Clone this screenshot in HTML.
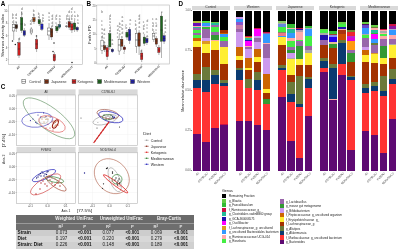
<!DOCTYPE html>
<html><head><meta charset="utf-8"><style>
html,body{margin:0;padding:0;background:#fff;}
#r{position:relative;will-change:transform;width:400px;height:250px;overflow:hidden;background:#fff;font-family:"Liberation Sans",sans-serif;}
#r div,#r span,#r svg{position:absolute;}
#r span{white-space:nowrap;line-height:1;}
</style></head><body><div id="r">
<svg width="400" height="250" viewBox="0 0 400 250" style="left:0;top:0" font-family="Liberation Sans, sans-serif"><rect x="8.4" y="5.0" width="74.0" height="59.599999999999994" fill="#fff"/><line x1="19.0" y1="5.0" x2="19.0" y2="64.6" stroke="#f7f7f7" stroke-width="0.4"/><line x1="36.6" y1="5.0" x2="36.6" y2="64.6" stroke="#f7f7f7" stroke-width="0.4"/><line x1="54.3" y1="5.0" x2="54.3" y2="64.6" stroke="#f7f7f7" stroke-width="0.4"/><line x1="71.9" y1="5.0" x2="71.9" y2="64.6" stroke="#f7f7f7" stroke-width="0.4"/><line x1="8.4" y1="11.3" x2="82.4" y2="11.3" stroke="#f7f7f7" stroke-width="0.4"/><line x1="8.4" y1="23.4" x2="82.4" y2="23.4" stroke="#f7f7f7" stroke-width="0.4"/><line x1="8.4" y1="35.5" x2="82.4" y2="35.5" stroke="#f7f7f7" stroke-width="0.4"/><line x1="8.4" y1="47.5" x2="82.4" y2="47.5" stroke="#f7f7f7" stroke-width="0.4"/><line x1="8.4" y1="59.6" x2="82.4" y2="59.6" stroke="#f7f7f7" stroke-width="0.4"/><rect x="8.4" y="5.0" width="74.0" height="59.599999999999994" fill="none" stroke="#b5b5b5" stroke-width="0.6"/><text x="7.30" y="12.30" font-size="2.8" fill="#555" text-anchor="end" font-weight="normal">10</text><line x1="7.6" y1="11.3" x2="8.4" y2="11.3" stroke="#666" stroke-width="0.4"/><text x="7.30" y="24.40" font-size="2.8" fill="#555" text-anchor="end" font-weight="normal">8</text><line x1="7.6" y1="23.4" x2="8.4" y2="23.4" stroke="#666" stroke-width="0.4"/><text x="7.30" y="36.50" font-size="2.8" fill="#555" text-anchor="end" font-weight="normal">6</text><line x1="7.6" y1="35.5" x2="8.4" y2="35.5" stroke="#666" stroke-width="0.4"/><text x="7.30" y="48.50" font-size="2.8" fill="#555" text-anchor="end" font-weight="normal">4</text><line x1="7.6" y1="47.5" x2="8.4" y2="47.5" stroke="#666" stroke-width="0.4"/><text x="7.30" y="60.60" font-size="2.8" fill="#555" text-anchor="end" font-weight="normal">2</text><line x1="7.6" y1="59.6" x2="8.4" y2="59.6" stroke="#666" stroke-width="0.4"/><text x="3.60" y="35.50" font-size="4.0" fill="#222" text-anchor="middle" font-weight="normal" transform="rotate(-90 3.60 35.50)">Shannon diversity index</text><line x1="13.70" y1="20.00" x2="13.70" y2="24.50" stroke="#222" stroke-width="0.35"/><line x1="13.70" y1="31.00" x2="13.70" y2="40.00" stroke="#222" stroke-width="0.35"/><rect x="12.53" y="24.50" width="2.35" height="6.50" fill="#ffffff" stroke="#222" stroke-width="0.35"/><line x1="12.53" y1="27.50" x2="14.87" y2="27.50" stroke="#222" stroke-width="0.5"/><line x1="16.35" y1="22.00" x2="16.35" y2="24.80" stroke="#222" stroke-width="0.35"/><line x1="16.35" y1="28.50" x2="16.35" y2="32.00" stroke="#222" stroke-width="0.35"/><rect x="15.18" y="24.80" width="2.35" height="3.70" fill="#3a1a0c" stroke="#222" stroke-width="0.35"/><line x1="15.18" y1="26.50" x2="17.53" y2="26.50" stroke="#222" stroke-width="0.5"/><line x1="19.00" y1="38.00" x2="19.00" y2="42.60" stroke="#222" stroke-width="0.35"/><line x1="19.00" y1="55.20" x2="19.00" y2="58.00" stroke="#222" stroke-width="0.35"/><rect x="17.82" y="42.60" width="2.35" height="12.60" fill="#cc1f1f" stroke="#222" stroke-width="0.35"/><line x1="17.82" y1="49.00" x2="20.18" y2="49.00" stroke="#222" stroke-width="0.5"/><line x1="21.65" y1="12.00" x2="21.65" y2="17.50" stroke="#222" stroke-width="0.35"/><line x1="21.65" y1="30.50" x2="21.65" y2="33.00" stroke="#222" stroke-width="0.35"/><rect x="20.47" y="17.50" width="2.35" height="13.00" fill="#1e661e" stroke="#222" stroke-width="0.35"/><line x1="20.47" y1="24.00" x2="22.82" y2="24.00" stroke="#222" stroke-width="0.5"/><line x1="24.30" y1="28.00" x2="24.30" y2="30.80" stroke="#222" stroke-width="0.35"/><line x1="24.30" y1="35.20" x2="24.30" y2="37.00" stroke="#222" stroke-width="0.35"/><rect x="23.12" y="30.80" width="2.35" height="4.40" fill="#1f1fa8" stroke="#222" stroke-width="0.35"/><line x1="23.12" y1="33.00" x2="25.48" y2="33.00" stroke="#222" stroke-width="0.5"/><line x1="31.30" y1="27.00" x2="31.30" y2="29.00" stroke="#222" stroke-width="0.35"/><line x1="31.30" y1="33.00" x2="31.30" y2="35.00" stroke="#222" stroke-width="0.35"/><rect x="30.12" y="29.00" width="2.35" height="4.00" fill="#ffffff" stroke="#222" stroke-width="0.35"/><line x1="30.12" y1="31.00" x2="32.48" y2="31.00" stroke="#222" stroke-width="0.5"/><line x1="33.95" y1="14.00" x2="33.95" y2="17.50" stroke="#222" stroke-width="0.35"/><line x1="33.95" y1="21.70" x2="33.95" y2="24.00" stroke="#222" stroke-width="0.35"/><rect x="32.77" y="17.50" width="2.35" height="4.20" fill="#9a4a1c" stroke="#222" stroke-width="0.35"/><line x1="32.77" y1="19.50" x2="35.13" y2="19.50" stroke="#222" stroke-width="0.5"/><line x1="36.60" y1="37.00" x2="36.60" y2="39.50" stroke="#222" stroke-width="0.35"/><line x1="36.60" y1="48.90" x2="36.60" y2="52.00" stroke="#222" stroke-width="0.35"/><rect x="35.42" y="39.50" width="2.35" height="9.40" fill="#cc1f1f" stroke="#222" stroke-width="0.35"/><line x1="35.42" y1="44.00" x2="37.78" y2="44.00" stroke="#222" stroke-width="0.5"/><line x1="39.25" y1="17.00" x2="39.25" y2="19.60" stroke="#222" stroke-width="0.35"/><line x1="39.25" y1="23.80" x2="39.25" y2="26.00" stroke="#222" stroke-width="0.35"/><rect x="38.07" y="19.60" width="2.35" height="4.20" fill="#1e661e" stroke="#222" stroke-width="0.35"/><line x1="38.07" y1="21.50" x2="40.43" y2="21.50" stroke="#222" stroke-width="0.5"/><line x1="41.90" y1="22.00" x2="41.90" y2="24.00" stroke="#222" stroke-width="0.35"/><line x1="41.90" y1="29.40" x2="41.90" y2="31.00" stroke="#222" stroke-width="0.35"/><rect x="40.72" y="24.00" width="2.35" height="5.40" fill="#2424c8" stroke="#222" stroke-width="0.35"/><line x1="40.72" y1="27.00" x2="43.08" y2="27.00" stroke="#222" stroke-width="0.5"/><line x1="49.00" y1="25.00" x2="49.00" y2="28.00" stroke="#222" stroke-width="0.35"/><line x1="49.00" y1="35.00" x2="49.00" y2="40.00" stroke="#222" stroke-width="0.35"/><rect x="47.82" y="28.00" width="2.35" height="7.00" fill="#ffffff" stroke="#222" stroke-width="0.35"/><line x1="47.82" y1="31.00" x2="50.18" y2="31.00" stroke="#222" stroke-width="0.5"/><line x1="51.65" y1="26.00" x2="51.65" y2="28.70" stroke="#222" stroke-width="0.35"/><line x1="51.65" y1="37.00" x2="51.65" y2="40.00" stroke="#222" stroke-width="0.35"/><rect x="50.47" y="28.70" width="2.35" height="8.30" fill="#6a2a10" stroke="#222" stroke-width="0.35"/><line x1="50.47" y1="32.00" x2="52.83" y2="32.00" stroke="#222" stroke-width="0.5"/><line x1="54.30" y1="52.00" x2="54.30" y2="54.50" stroke="#222" stroke-width="0.35"/><line x1="54.30" y1="60.80" x2="54.30" y2="62.00" stroke="#222" stroke-width="0.35"/><rect x="53.12" y="54.50" width="2.35" height="6.30" fill="#cc1f1f" stroke="#222" stroke-width="0.35"/><line x1="53.12" y1="57.00" x2="55.48" y2="57.00" stroke="#222" stroke-width="0.5"/><line x1="56.95" y1="24.00" x2="56.95" y2="26.60" stroke="#222" stroke-width="0.35"/><line x1="56.95" y1="30.80" x2="56.95" y2="33.00" stroke="#222" stroke-width="0.35"/><rect x="55.77" y="26.60" width="2.35" height="4.20" fill="#1e661e" stroke="#222" stroke-width="0.35"/><line x1="55.77" y1="28.50" x2="58.12" y2="28.50" stroke="#222" stroke-width="0.5"/><line x1="59.60" y1="23.00" x2="59.60" y2="24.50" stroke="#222" stroke-width="0.35"/><line x1="59.60" y1="27.30" x2="59.60" y2="29.00" stroke="#222" stroke-width="0.35"/><rect x="58.42" y="24.50" width="2.35" height="2.80" fill="#1a6a80" stroke="#222" stroke-width="0.35"/><line x1="58.42" y1="26.00" x2="60.77" y2="26.00" stroke="#222" stroke-width="0.5"/><line x1="66.60" y1="25.00" x2="66.60" y2="26.00" stroke="#222" stroke-width="0.35"/><line x1="66.60" y1="26.80" x2="66.60" y2="28.00" stroke="#222" stroke-width="0.35"/><rect x="65.43" y="26.00" width="2.35" height="0.80" fill="#ffffff" stroke="#222" stroke-width="0.35"/><line x1="65.43" y1="26.40" x2="67.78" y2="26.40" stroke="#222" stroke-width="0.5"/><line x1="69.25" y1="19.00" x2="69.25" y2="21.70" stroke="#222" stroke-width="0.35"/><line x1="69.25" y1="27.30" x2="69.25" y2="30.00" stroke="#222" stroke-width="0.35"/><rect x="68.08" y="21.70" width="2.35" height="5.60" fill="#8a1a10" stroke="#222" stroke-width="0.35"/><line x1="68.08" y1="24.00" x2="70.42" y2="24.00" stroke="#222" stroke-width="0.5"/><line x1="71.90" y1="21.00" x2="71.90" y2="23.80" stroke="#222" stroke-width="0.35"/><line x1="71.90" y1="30.00" x2="71.90" y2="33.00" stroke="#222" stroke-width="0.35"/><rect x="70.73" y="23.80" width="2.35" height="6.20" fill="#cc1f1f" stroke="#222" stroke-width="0.35"/><line x1="70.73" y1="27.00" x2="73.08" y2="27.00" stroke="#222" stroke-width="0.5"/><line x1="74.55" y1="20.00" x2="74.55" y2="23.00" stroke="#222" stroke-width="0.35"/><line x1="74.55" y1="29.40" x2="74.55" y2="32.00" stroke="#222" stroke-width="0.35"/><rect x="73.38" y="23.00" width="2.35" height="6.40" fill="#1e661e" stroke="#222" stroke-width="0.35"/><line x1="73.38" y1="26.00" x2="75.73" y2="26.00" stroke="#222" stroke-width="0.5"/><line x1="77.20" y1="26.00" x2="77.20" y2="27.30" stroke="#222" stroke-width="0.35"/><line x1="77.20" y1="30.00" x2="77.20" y2="32.00" stroke="#222" stroke-width="0.35"/><rect x="76.03" y="27.30" width="2.35" height="2.70" fill="#1f1fa8" stroke="#222" stroke-width="0.35"/><line x1="76.03" y1="28.60" x2="78.38" y2="28.60" stroke="#222" stroke-width="0.5"/><circle cx="15.3" cy="44.5" r="0.75" fill="#222"/><circle cx="12.5" cy="41" r="0.75" fill="#222"/><circle cx="54" cy="43" r="0.75" fill="#222"/><circle cx="53" cy="51.5" r="0.75" fill="#222"/><circle cx="72" cy="62.4" r="0.75" fill="#222"/><circle cx="36.5" cy="36" r="0.75" fill="#222"/><text x="12.80" y="15.60" font-size="3.2" fill="#606060" text-anchor="middle" font-weight="normal">b</text><text x="12.80" y="19.10" font-size="3.2" fill="#606060" text-anchor="middle" font-weight="normal">b</text><text x="12.80" y="22.70" font-size="3.2" fill="#606060" text-anchor="middle" font-weight="normal">c</text><text x="16.20" y="15.60" font-size="3.2" fill="#606060" text-anchor="middle" font-weight="normal">d</text><text x="16.20" y="19.10" font-size="3.2" fill="#606060" text-anchor="middle" font-weight="normal">a</text><text x="16.20" y="22.70" font-size="3.2" fill="#606060" text-anchor="middle" font-weight="normal">a</text><text x="21.80" y="9.90" font-size="3.2" fill="#606060" text-anchor="middle" font-weight="normal">d</text><text x="21.80" y="12.60" font-size="3.2" fill="#606060" text-anchor="middle" font-weight="normal">c</text><text x="21.80" y="15.30" font-size="3.2" fill="#606060" text-anchor="middle" font-weight="normal">b</text><text x="25.00" y="26.40" font-size="3.2" fill="#606060" text-anchor="middle" font-weight="normal">b</text><text x="19.40" y="39.60" font-size="3.2" fill="#606060" text-anchor="middle" font-weight="normal">d</text><text x="30.60" y="21.60" font-size="3.2" fill="#606060" text-anchor="middle" font-weight="normal">d</text><text x="30.60" y="25.10" font-size="3.2" fill="#606060" text-anchor="middle" font-weight="normal">d</text><text x="33.60" y="12.10" font-size="3.2" fill="#606060" text-anchor="middle" font-weight="normal">b</text><text x="33.60" y="15.90" font-size="3.2" fill="#606060" text-anchor="middle" font-weight="normal">b</text><text x="38.60" y="15.10" font-size="3.2" fill="#606060" text-anchor="middle" font-weight="normal">b</text><text x="38.60" y="18.30" font-size="3.2" fill="#606060" text-anchor="middle" font-weight="normal">d</text><text x="43.00" y="15.60" font-size="3.2" fill="#606060" text-anchor="middle" font-weight="normal">a</text><text x="43.00" y="18.60" font-size="3.2" fill="#606060" text-anchor="middle" font-weight="normal">a</text><text x="43.00" y="21.70" font-size="3.2" fill="#606060" text-anchor="middle" font-weight="normal">b</text><text x="49.20" y="14.10" font-size="3.2" fill="#606060" text-anchor="middle" font-weight="normal">a</text><text x="49.20" y="17.60" font-size="3.2" fill="#606060" text-anchor="middle" font-weight="normal">c</text><text x="49.20" y="21.10" font-size="3.2" fill="#606060" text-anchor="middle" font-weight="normal">a</text><text x="49.20" y="24.60" font-size="3.2" fill="#606060" text-anchor="middle" font-weight="normal">c</text><text x="52.40" y="16.50" font-size="3.2" fill="#606060" text-anchor="middle" font-weight="normal">d</text><text x="52.40" y="20.10" font-size="3.2" fill="#606060" text-anchor="middle" font-weight="normal">d</text><text x="52.40" y="23.60" font-size="3.2" fill="#606060" text-anchor="middle" font-weight="normal">d</text><text x="52.40" y="27.10" font-size="3.2" fill="#606060" text-anchor="middle" font-weight="normal">d</text><text x="56.40" y="16.50" font-size="3.2" fill="#606060" text-anchor="middle" font-weight="normal">d</text><text x="56.40" y="20.10" font-size="3.2" fill="#606060" text-anchor="middle" font-weight="normal">b</text><text x="56.40" y="23.60" font-size="3.2" fill="#606060" text-anchor="middle" font-weight="normal">c</text><text x="59.60" y="16.50" font-size="3.2" fill="#606060" text-anchor="middle" font-weight="normal">a</text><text x="59.60" y="20.10" font-size="3.2" fill="#606060" text-anchor="middle" font-weight="normal">a</text><text x="59.60" y="23.10" font-size="3.2" fill="#606060" text-anchor="middle" font-weight="normal">b</text><text x="66.80" y="16.50" font-size="3.2" fill="#606060" text-anchor="middle" font-weight="normal">d</text><text x="66.80" y="20.10" font-size="3.2" fill="#606060" text-anchor="middle" font-weight="normal">b</text><text x="66.80" y="23.60" font-size="3.2" fill="#606060" text-anchor="middle" font-weight="normal">c</text><text x="69.20" y="13.30" font-size="3.2" fill="#606060" text-anchor="middle" font-weight="normal">d</text><text x="69.20" y="16.60" font-size="3.2" fill="#606060" text-anchor="middle" font-weight="normal">c</text><text x="69.20" y="20.10" font-size="3.2" fill="#606060" text-anchor="middle" font-weight="normal">d</text><text x="71.60" y="10.10" font-size="3.2" fill="#606060" text-anchor="middle" font-weight="normal">d</text><text x="71.60" y="13.10" font-size="3.2" fill="#606060" text-anchor="middle" font-weight="normal">c</text><text x="71.60" y="16.60" font-size="3.2" fill="#606060" text-anchor="middle" font-weight="normal">d</text><text x="71.60" y="20.10" font-size="3.2" fill="#606060" text-anchor="middle" font-weight="normal">b</text><text x="74.80" y="13.10" font-size="3.2" fill="#606060" text-anchor="middle" font-weight="normal">c</text><text x="74.80" y="16.60" font-size="3.2" fill="#606060" text-anchor="middle" font-weight="normal">a</text><text x="74.80" y="20.10" font-size="3.2" fill="#606060" text-anchor="middle" font-weight="normal">c</text><text x="78.00" y="17.30" font-size="3.2" fill="#606060" text-anchor="middle" font-weight="normal">b</text><text x="78.00" y="20.60" font-size="3.2" fill="#606060" text-anchor="middle" font-weight="normal">c</text><text x="78.00" y="24.10" font-size="3.2" fill="#606060" text-anchor="middle" font-weight="normal">a</text><text x="20.00" y="67.20" font-size="2.8" fill="#444" text-anchor="end" font-weight="bold" transform="rotate(-45 20.00 67.20)">All</text><line x1="19.0" y1="64.6" x2="19.0" y2="65.5" stroke="#666" stroke-width="0.4"/><text x="37.60" y="67.20" font-size="2.8" fill="#444" text-anchor="end" font-weight="bold" transform="rotate(-45 37.60 67.20)">C57BL/6J</text><line x1="36.6" y1="64.6" x2="36.6" y2="65.5" stroke="#666" stroke-width="0.4"/><text x="55.30" y="67.20" font-size="2.8" fill="#444" text-anchor="end" font-weight="bold" transform="rotate(-45 55.30 67.20)">FVB/NJ</text><line x1="54.3" y1="64.6" x2="54.3" y2="65.5" stroke="#666" stroke-width="0.4"/><text x="72.90" y="67.20" font-size="2.8" fill="#444" text-anchor="end" font-weight="bold" transform="rotate(-45 72.90 67.20)">NOD/ShiLtJ</text><line x1="71.9" y1="64.6" x2="71.9" y2="65.5" stroke="#666" stroke-width="0.4"/><rect x="96.8" y="5.0" width="72.50000000000001" height="59.0" fill="#fff"/><line x1="107.2" y1="5.0" x2="107.2" y2="64.0" stroke="#f7f7f7" stroke-width="0.4"/><line x1="124.4" y1="5.0" x2="124.4" y2="64.0" stroke="#f7f7f7" stroke-width="0.4"/><line x1="141.7" y1="5.0" x2="141.7" y2="64.0" stroke="#f7f7f7" stroke-width="0.4"/><line x1="158.9" y1="5.0" x2="158.9" y2="64.0" stroke="#f7f7f7" stroke-width="0.4"/><line x1="96.8" y1="5.7" x2="169.3" y2="5.7" stroke="#f7f7f7" stroke-width="0.4"/><line x1="96.8" y1="20.0" x2="169.3" y2="20.0" stroke="#f7f7f7" stroke-width="0.4"/><line x1="96.8" y1="34.4" x2="169.3" y2="34.4" stroke="#f7f7f7" stroke-width="0.4"/><line x1="96.8" y1="48.75" x2="169.3" y2="48.75" stroke="#f7f7f7" stroke-width="0.4"/><line x1="96.8" y1="63.1" x2="169.3" y2="63.1" stroke="#f7f7f7" stroke-width="0.4"/><rect x="96.8" y="5.0" width="72.50000000000001" height="59.0" fill="none" stroke="#b5b5b5" stroke-width="0.6"/><text x="95.70" y="6.70" font-size="2.8" fill="#555" text-anchor="end" font-weight="normal">20</text><line x1="96.0" y1="5.7" x2="96.8" y2="5.7" stroke="#666" stroke-width="0.4"/><text x="95.70" y="21.00" font-size="2.8" fill="#555" text-anchor="end" font-weight="normal">15</text><line x1="96.0" y1="20.0" x2="96.8" y2="20.0" stroke="#666" stroke-width="0.4"/><text x="95.70" y="35.40" font-size="2.8" fill="#555" text-anchor="end" font-weight="normal">10</text><line x1="96.0" y1="34.4" x2="96.8" y2="34.4" stroke="#666" stroke-width="0.4"/><text x="95.70" y="49.75" font-size="2.8" fill="#555" text-anchor="end" font-weight="normal">5</text><line x1="96.0" y1="48.75" x2="96.8" y2="48.75" stroke="#666" stroke-width="0.4"/><text x="95.70" y="64.10" font-size="2.8" fill="#555" text-anchor="end" font-weight="normal">0</text><line x1="96.0" y1="63.1" x2="96.8" y2="63.1" stroke="#666" stroke-width="0.4"/><text x="90.80" y="34.50" font-size="4.0" fill="#222" text-anchor="middle" font-weight="normal" transform="rotate(-90 90.80 34.50)">Faith's PD</text><line x1="102.02" y1="36.00" x2="102.02" y2="40.60" stroke="#222" stroke-width="0.35"/><line x1="102.02" y1="50.40" x2="102.02" y2="54.00" stroke="#222" stroke-width="0.35"/><rect x="100.88" y="40.60" width="2.29" height="9.80" fill="#ffffff" stroke="#222" stroke-width="0.35"/><line x1="100.88" y1="46.00" x2="103.17" y2="46.00" stroke="#222" stroke-width="0.5"/><line x1="104.61" y1="42.00" x2="104.61" y2="45.50" stroke="#222" stroke-width="0.35"/><line x1="104.61" y1="49.70" x2="104.61" y2="52.00" stroke="#222" stroke-width="0.35"/><rect x="103.47" y="45.50" width="2.29" height="4.20" fill="#7a2e12" stroke="#222" stroke-width="0.35"/><line x1="103.47" y1="47.50" x2="105.75" y2="47.50" stroke="#222" stroke-width="0.5"/><line x1="107.20" y1="45.00" x2="107.20" y2="47.60" stroke="#222" stroke-width="0.35"/><line x1="107.20" y1="56.70" x2="107.20" y2="60.00" stroke="#222" stroke-width="0.35"/><rect x="106.06" y="47.60" width="2.29" height="9.10" fill="#cc1f1f" stroke="#222" stroke-width="0.35"/><line x1="106.06" y1="51.00" x2="108.34" y2="51.00" stroke="#222" stroke-width="0.5"/><line x1="109.79" y1="30.00" x2="109.79" y2="33.60" stroke="#222" stroke-width="0.35"/><line x1="109.79" y1="46.90" x2="109.79" y2="50.00" stroke="#222" stroke-width="0.35"/><rect x="108.65" y="33.60" width="2.29" height="13.30" fill="#1e661e" stroke="#222" stroke-width="0.35"/><line x1="108.65" y1="40.00" x2="110.94" y2="40.00" stroke="#222" stroke-width="0.5"/><line x1="112.38" y1="48.00" x2="112.38" y2="49.20" stroke="#222" stroke-width="0.35"/><line x1="112.38" y1="51.80" x2="112.38" y2="53.00" stroke="#222" stroke-width="0.35"/><rect x="111.23" y="49.20" width="2.29" height="2.60" fill="#1f1fa8" stroke="#222" stroke-width="0.35"/><line x1="111.23" y1="50.50" x2="113.52" y2="50.50" stroke="#222" stroke-width="0.5"/><line x1="119.22" y1="35.00" x2="119.22" y2="39.20" stroke="#222" stroke-width="0.35"/><line x1="119.22" y1="51.00" x2="119.22" y2="55.00" stroke="#222" stroke-width="0.35"/><rect x="118.08" y="39.20" width="2.29" height="11.80" fill="#ffffff" stroke="#222" stroke-width="0.35"/><line x1="118.08" y1="45.00" x2="120.36" y2="45.00" stroke="#222" stroke-width="0.5"/><line x1="121.81" y1="36.00" x2="121.81" y2="39.20" stroke="#222" stroke-width="0.35"/><line x1="121.81" y1="46.20" x2="121.81" y2="50.00" stroke="#222" stroke-width="0.35"/><rect x="120.67" y="39.20" width="2.29" height="7.00" fill="#7a2e12" stroke="#222" stroke-width="0.35"/><line x1="120.67" y1="43.00" x2="122.95" y2="43.00" stroke="#222" stroke-width="0.5"/><line x1="124.40" y1="45.00" x2="124.40" y2="47.00" stroke="#222" stroke-width="0.35"/><line x1="124.40" y1="49.70" x2="124.40" y2="52.00" stroke="#222" stroke-width="0.35"/><rect x="123.26" y="47.00" width="2.29" height="2.70" fill="#8a1a10" stroke="#222" stroke-width="0.35"/><line x1="123.26" y1="48.50" x2="125.55" y2="48.50" stroke="#222" stroke-width="0.5"/><line x1="126.99" y1="30.00" x2="126.99" y2="32.20" stroke="#222" stroke-width="0.35"/><line x1="126.99" y1="37.10" x2="126.99" y2="40.00" stroke="#222" stroke-width="0.35"/><rect x="125.85" y="32.20" width="2.29" height="4.90" fill="#1e661e" stroke="#222" stroke-width="0.35"/><line x1="125.85" y1="35.00" x2="128.13" y2="35.00" stroke="#222" stroke-width="0.5"/><line x1="129.58" y1="27.00" x2="129.58" y2="29.40" stroke="#222" stroke-width="0.35"/><line x1="129.58" y1="40.60" x2="129.58" y2="44.00" stroke="#222" stroke-width="0.35"/><rect x="128.44" y="29.40" width="2.29" height="11.20" fill="#1f1fa8" stroke="#222" stroke-width="0.35"/><line x1="128.44" y1="35.00" x2="130.72" y2="35.00" stroke="#222" stroke-width="0.5"/><line x1="136.52" y1="30.00" x2="136.52" y2="33.60" stroke="#222" stroke-width="0.35"/><line x1="136.52" y1="46.20" x2="136.52" y2="53.00" stroke="#222" stroke-width="0.35"/><rect x="135.38" y="33.60" width="2.29" height="12.60" fill="#ffffff" stroke="#222" stroke-width="0.35"/><line x1="135.38" y1="40.00" x2="137.66" y2="40.00" stroke="#222" stroke-width="0.5"/><line x1="139.11" y1="30.00" x2="139.11" y2="32.90" stroke="#222" stroke-width="0.35"/><line x1="139.11" y1="46.20" x2="139.11" y2="55.00" stroke="#222" stroke-width="0.35"/><rect x="137.97" y="32.90" width="2.29" height="13.30" fill="#7a2e12" stroke="#222" stroke-width="0.35"/><line x1="137.97" y1="40.00" x2="140.25" y2="40.00" stroke="#222" stroke-width="0.5"/><line x1="141.70" y1="50.00" x2="141.70" y2="53.00" stroke="#222" stroke-width="0.35"/><line x1="141.70" y1="59.60" x2="141.70" y2="62.00" stroke="#222" stroke-width="0.35"/><rect x="140.56" y="53.00" width="2.29" height="6.60" fill="#cc1f1f" stroke="#222" stroke-width="0.35"/><line x1="140.56" y1="56.00" x2="142.84" y2="56.00" stroke="#222" stroke-width="0.5"/><line x1="144.29" y1="34.00" x2="144.29" y2="37.10" stroke="#222" stroke-width="0.35"/><line x1="144.29" y1="43.40" x2="144.29" y2="46.00" stroke="#222" stroke-width="0.35"/><rect x="143.15" y="37.10" width="2.29" height="6.30" fill="#1e661e" stroke="#222" stroke-width="0.35"/><line x1="143.15" y1="40.00" x2="145.43" y2="40.00" stroke="#222" stroke-width="0.5"/><line x1="146.88" y1="36.00" x2="146.88" y2="38.50" stroke="#222" stroke-width="0.35"/><line x1="146.88" y1="42.70" x2="146.88" y2="45.00" stroke="#222" stroke-width="0.35"/><rect x="145.74" y="38.50" width="2.29" height="4.20" fill="#1f1fa8" stroke="#222" stroke-width="0.35"/><line x1="145.74" y1="40.50" x2="148.02" y2="40.50" stroke="#222" stroke-width="0.5"/><line x1="153.72" y1="31.00" x2="153.72" y2="33.60" stroke="#222" stroke-width="0.35"/><line x1="153.72" y1="39.20" x2="153.72" y2="42.00" stroke="#222" stroke-width="0.35"/><rect x="152.58" y="33.60" width="2.29" height="5.60" fill="#ffffff" stroke="#222" stroke-width="0.35"/><line x1="152.58" y1="36.00" x2="154.86" y2="36.00" stroke="#222" stroke-width="0.5"/><line x1="156.31" y1="36.00" x2="156.31" y2="38.50" stroke="#222" stroke-width="0.35"/><line x1="156.31" y1="44.10" x2="156.31" y2="47.00" stroke="#222" stroke-width="0.35"/><rect x="155.17" y="38.50" width="2.29" height="5.60" fill="#7a2e12" stroke="#222" stroke-width="0.35"/><line x1="155.17" y1="41.00" x2="157.45" y2="41.00" stroke="#222" stroke-width="0.5"/><line x1="158.90" y1="45.00" x2="158.90" y2="47.60" stroke="#222" stroke-width="0.35"/><line x1="158.90" y1="52.50" x2="158.90" y2="55.00" stroke="#222" stroke-width="0.35"/><rect x="157.76" y="47.60" width="2.29" height="4.90" fill="#cc1f1f" stroke="#222" stroke-width="0.35"/><line x1="157.76" y1="50.00" x2="160.04" y2="50.00" stroke="#222" stroke-width="0.5"/><line x1="161.49" y1="12.00" x2="161.49" y2="16.10" stroke="#222" stroke-width="0.35"/><line x1="161.49" y1="41.30" x2="161.49" y2="58.00" stroke="#222" stroke-width="0.35"/><rect x="160.35" y="16.10" width="2.29" height="25.20" fill="#1e661e" stroke="#222" stroke-width="0.35"/><line x1="160.35" y1="30.00" x2="162.63" y2="30.00" stroke="#222" stroke-width="0.5"/><line x1="164.08" y1="33.00" x2="164.08" y2="35.70" stroke="#222" stroke-width="0.35"/><line x1="164.08" y1="41.30" x2="164.08" y2="44.00" stroke="#222" stroke-width="0.35"/><rect x="162.94" y="35.70" width="2.29" height="5.60" fill="#1f1fa8" stroke="#222" stroke-width="0.35"/><line x1="162.94" y1="38.50" x2="165.22" y2="38.50" stroke="#222" stroke-width="0.5"/><text x="102.10" y="13.30" font-size="3.2" fill="#606060" text-anchor="middle" font-weight="normal">b</text><text x="102.10" y="22.10" font-size="3.2" fill="#606060" text-anchor="middle" font-weight="normal">c</text><text x="102.10" y="26.10" font-size="3.2" fill="#606060" text-anchor="middle" font-weight="normal">c</text><text x="102.10" y="30.10" font-size="3.2" fill="#606060" text-anchor="middle" font-weight="normal">a</text><text x="102.10" y="34.10" font-size="3.2" fill="#606060" text-anchor="middle" font-weight="normal">a</text><text x="102.10" y="38.10" font-size="3.2" fill="#606060" text-anchor="middle" font-weight="normal">d</text><text x="104.30" y="30.90" font-size="3.2" fill="#606060" text-anchor="middle" font-weight="normal">d</text><text x="104.30" y="34.60" font-size="3.2" fill="#606060" text-anchor="middle" font-weight="normal">a</text><text x="104.30" y="38.60" font-size="3.2" fill="#606060" text-anchor="middle" font-weight="normal">c</text><text x="104.30" y="42.60" font-size="3.2" fill="#606060" text-anchor="middle" font-weight="normal">a</text><text x="110.10" y="17.00" font-size="3.2" fill="#606060" text-anchor="middle" font-weight="normal">d</text><text x="110.10" y="19.90" font-size="3.2" fill="#606060" text-anchor="middle" font-weight="normal">b</text><text x="110.10" y="22.80" font-size="3.2" fill="#606060" text-anchor="middle" font-weight="normal">a</text><text x="110.10" y="25.70" font-size="3.2" fill="#606060" text-anchor="middle" font-weight="normal">c</text><text x="110.10" y="28.60" font-size="3.2" fill="#606060" text-anchor="middle" font-weight="normal">d</text><text x="110.10" y="31.60" font-size="3.2" fill="#606060" text-anchor="middle" font-weight="normal">d</text><text x="112.30" y="41.10" font-size="3.2" fill="#606060" text-anchor="middle" font-weight="normal">a</text><text x="112.30" y="45.10" font-size="3.2" fill="#606060" text-anchor="middle" font-weight="normal">a</text><text x="117.60" y="27.10" font-size="3.2" fill="#606060" text-anchor="middle" font-weight="normal">a</text><text x="117.60" y="30.60" font-size="3.2" fill="#606060" text-anchor="middle" font-weight="normal">d</text><text x="117.60" y="34.10" font-size="3.2" fill="#606060" text-anchor="middle" font-weight="normal">c</text><text x="117.60" y="37.60" font-size="3.2" fill="#606060" text-anchor="middle" font-weight="normal">c</text><text x="119.70" y="24.60" font-size="3.2" fill="#606060" text-anchor="middle" font-weight="normal">b</text><text x="119.70" y="28.10" font-size="3.2" fill="#606060" text-anchor="middle" font-weight="normal">a</text><text x="119.70" y="31.60" font-size="3.2" fill="#606060" text-anchor="middle" font-weight="normal">c</text><text x="119.70" y="35.10" font-size="3.2" fill="#606060" text-anchor="middle" font-weight="normal">a</text><text x="122.40" y="18.10" font-size="3.2" fill="#606060" text-anchor="middle" font-weight="normal">a</text><text x="122.40" y="22.10" font-size="3.2" fill="#606060" text-anchor="middle" font-weight="normal">a</text><text x="122.40" y="26.10" font-size="3.2" fill="#606060" text-anchor="middle" font-weight="normal">a</text><text x="122.40" y="30.10" font-size="3.2" fill="#606060" text-anchor="middle" font-weight="normal">b</text><text x="122.40" y="34.10" font-size="3.2" fill="#606060" text-anchor="middle" font-weight="normal">d</text><text x="122.40" y="38.10" font-size="3.2" fill="#606060" text-anchor="middle" font-weight="normal">c</text><text x="126.40" y="25.60" font-size="3.2" fill="#606060" text-anchor="middle" font-weight="normal">c</text><text x="126.40" y="29.10" font-size="3.2" fill="#606060" text-anchor="middle" font-weight="normal">b</text><text x="130.40" y="21.10" font-size="3.2" fill="#606060" text-anchor="middle" font-weight="normal">a</text><text x="130.40" y="25.10" font-size="3.2" fill="#606060" text-anchor="middle" font-weight="normal">c</text><text x="124.20" y="53.60" font-size="3.2" fill="#606060" text-anchor="middle" font-weight="normal">c</text><text x="135.60" y="22.10" font-size="3.2" fill="#606060" text-anchor="middle" font-weight="normal">c</text><text x="135.60" y="26.10" font-size="3.2" fill="#606060" text-anchor="middle" font-weight="normal">b</text><text x="135.60" y="30.10" font-size="3.2" fill="#606060" text-anchor="middle" font-weight="normal">d</text><text x="139.30" y="16.50" font-size="3.2" fill="#606060" text-anchor="middle" font-weight="normal">d</text><text x="139.30" y="20.10" font-size="3.2" fill="#606060" text-anchor="middle" font-weight="normal">d</text><text x="139.30" y="24.10" font-size="3.2" fill="#606060" text-anchor="middle" font-weight="normal">d</text><text x="139.30" y="28.10" font-size="3.2" fill="#606060" text-anchor="middle" font-weight="normal">a</text><text x="143.60" y="22.90" font-size="3.2" fill="#606060" text-anchor="middle" font-weight="normal">c</text><text x="143.60" y="26.60" font-size="3.2" fill="#606060" text-anchor="middle" font-weight="normal">d</text><text x="143.60" y="30.10" font-size="3.2" fill="#606060" text-anchor="middle" font-weight="normal">b</text><text x="143.60" y="34.10" font-size="3.2" fill="#606060" text-anchor="middle" font-weight="normal">c</text><text x="147.30" y="22.10" font-size="3.2" fill="#606060" text-anchor="middle" font-weight="normal">d</text><text x="147.30" y="25.60" font-size="3.2" fill="#606060" text-anchor="middle" font-weight="normal">c</text><text x="147.30" y="29.10" font-size="3.2" fill="#606060" text-anchor="middle" font-weight="normal">c</text><text x="147.30" y="33.10" font-size="3.2" fill="#606060" text-anchor="middle" font-weight="normal">c</text><text x="147.30" y="36.60" font-size="3.2" fill="#606060" text-anchor="middle" font-weight="normal">a</text><text x="141.40" y="52.10" font-size="3.2" fill="#606060" text-anchor="middle" font-weight="normal">d</text><text x="152.90" y="19.70" font-size="3.2" fill="#606060" text-anchor="middle" font-weight="normal">c</text><text x="152.90" y="23.60" font-size="3.2" fill="#606060" text-anchor="middle" font-weight="normal">a</text><text x="152.90" y="27.10" font-size="3.2" fill="#606060" text-anchor="middle" font-weight="normal">d</text><text x="152.90" y="30.60" font-size="3.2" fill="#606060" text-anchor="middle" font-weight="normal">b</text><text x="156.40" y="19.70" font-size="3.2" fill="#606060" text-anchor="middle" font-weight="normal">a</text><text x="156.40" y="23.60" font-size="3.2" fill="#606060" text-anchor="middle" font-weight="normal">c</text><text x="156.40" y="27.10" font-size="3.2" fill="#606060" text-anchor="middle" font-weight="normal">d</text><text x="156.40" y="30.60" font-size="3.2" fill="#606060" text-anchor="middle" font-weight="normal">c</text><text x="156.40" y="34.10" font-size="3.2" fill="#606060" text-anchor="middle" font-weight="normal">c</text><text x="162.00" y="12.50" font-size="3.2" fill="#606060" text-anchor="middle" font-weight="normal">c</text><text x="165.50" y="22.10" font-size="3.2" fill="#606060" text-anchor="middle" font-weight="normal">d</text><text x="165.50" y="25.60" font-size="3.2" fill="#606060" text-anchor="middle" font-weight="normal">a</text><text x="165.50" y="29.10" font-size="3.2" fill="#606060" text-anchor="middle" font-weight="normal">a</text><text x="165.50" y="32.60" font-size="3.2" fill="#606060" text-anchor="middle" font-weight="normal">a</text><text x="108.20" y="66.60" font-size="2.8" fill="#444" text-anchor="end" font-weight="bold" transform="rotate(-45 108.20 66.60)">All</text><line x1="107.2" y1="64.0" x2="107.2" y2="64.9" stroke="#666" stroke-width="0.4"/><text x="125.40" y="66.60" font-size="2.8" fill="#444" text-anchor="end" font-weight="bold" transform="rotate(-45 125.40 66.60)">C57BL/6J</text><line x1="124.4" y1="64.0" x2="124.4" y2="64.9" stroke="#666" stroke-width="0.4"/><text x="142.70" y="66.60" font-size="2.8" fill="#444" text-anchor="end" font-weight="bold" transform="rotate(-45 142.70 66.60)">FVB/NJ</text><line x1="141.7" y1="64.0" x2="141.7" y2="64.9" stroke="#666" stroke-width="0.4"/><text x="159.90" y="66.60" font-size="2.8" fill="#444" text-anchor="end" font-weight="bold" transform="rotate(-45 159.90 66.60)">NOD/ShiLtJ</text><line x1="158.9" y1="64.0" x2="158.9" y2="64.9" stroke="#666" stroke-width="0.4"/><text x="0.80" y="5.60" font-size="6.3" fill="#000" text-anchor="start" font-weight="bold">A</text><text x="86.40" y="5.60" font-size="6.3" fill="#000" text-anchor="start" font-weight="bold">B</text><text x="0.80" y="89.30" font-size="6.3" fill="#000" text-anchor="start" font-weight="bold">C</text><text x="178.60" y="5.80" font-size="6.3" fill="#000" text-anchor="start" font-weight="bold">D</text><rect x="21.9" y="79.69999999999999" width="3.8" height="3.8" fill="#ffffff" stroke="#333" stroke-width="0.45"/><line x1="21.9" y1="81.6" x2="25.7" y2="81.6" stroke="#333" stroke-width="0.45"/><text x="29.00" y="82.90" font-size="3.6" fill="#333" text-anchor="start" font-weight="normal">Control</text><rect x="44.7" y="79.69999999999999" width="3.8" height="3.8" fill="#7a2e12" stroke="#333" stroke-width="0.45"/><line x1="44.7" y1="81.6" x2="48.5" y2="81.6" stroke="#333" stroke-width="0.45"/><text x="51.00" y="82.90" font-size="3.6" fill="#333" text-anchor="start" font-weight="normal">Japanese</text><rect x="72.10000000000001" y="79.69999999999999" width="3.8" height="3.8" fill="#cc1f1f" stroke="#333" stroke-width="0.45"/><line x1="72.10000000000001" y1="81.6" x2="75.9" y2="81.6" stroke="#333" stroke-width="0.45"/><text x="77.60" y="82.90" font-size="3.6" fill="#333" text-anchor="start" font-weight="normal">Ketogenic</text><rect x="97.7" y="79.69999999999999" width="3.8" height="3.8" fill="#1e661e" stroke="#333" stroke-width="0.45"/><line x1="97.7" y1="81.6" x2="101.5" y2="81.6" stroke="#333" stroke-width="0.45"/><text x="104.00" y="82.90" font-size="3.6" fill="#333" text-anchor="start" font-weight="normal">Mediterranean</text><rect x="130.7" y="79.69999999999999" width="3.8" height="3.8" fill="#1f1fa8" stroke="#333" stroke-width="0.45"/><line x1="130.7" y1="81.6" x2="134.5" y2="81.6" stroke="#333" stroke-width="0.45"/><text x="137.00" y="82.90" font-size="3.6" fill="#333" text-anchor="start" font-weight="normal">Western</text><rect x="16.5" y="89.4" width="59.099999999999994" height="5.599999999999994" fill="#d9d9d9"/><text x="46.05" y="93.30" font-size="3.0" fill="#333" text-anchor="middle" font-weight="normal">All</text><rect x="16.5" y="95.0" width="59.099999999999994" height="50.400000000000006" fill="#fff"/><line x1="30.4" y1="95.0" x2="30.4" y2="145.4" stroke="#f0f0f0" stroke-width="0.4"/><line x1="47.5" y1="95.0" x2="47.5" y2="145.4" stroke="#f0f0f0" stroke-width="0.4"/><line x1="65.7" y1="95.0" x2="65.7" y2="145.4" stroke="#f0f0f0" stroke-width="0.4"/><line x1="16.5" y1="96.0" x2="75.6" y2="96.0" stroke="#f0f0f0" stroke-width="0.4"/><line x1="16.5" y1="108.5" x2="75.6" y2="108.5" stroke="#f0f0f0" stroke-width="0.4"/><line x1="16.5" y1="121.5" x2="75.6" y2="121.5" stroke="#f0f0f0" stroke-width="0.4"/><line x1="16.5" y1="134.5" x2="75.6" y2="134.5" stroke="#f0f0f0" stroke-width="0.4"/><rect x="16.5" y="95.0" width="59.099999999999994" height="50.400000000000006" fill="none" stroke="#b5b5b5" stroke-width="0.6"/><text x="15.00" y="97.05" font-size="2.9" fill="#444" text-anchor="end" font-weight="normal">0.05</text><line x1="15.6" y1="96.0" x2="16.5" y2="96.0" stroke="#666" stroke-width="0.4"/><text x="15.00" y="109.55" font-size="2.9" fill="#444" text-anchor="end" font-weight="normal">0.00</text><line x1="15.6" y1="108.5" x2="16.5" y2="108.5" stroke="#666" stroke-width="0.4"/><text x="15.00" y="122.55" font-size="2.9" fill="#444" text-anchor="end" font-weight="normal">-0.05</text><line x1="15.6" y1="121.5" x2="16.5" y2="121.5" stroke="#666" stroke-width="0.4"/><text x="15.00" y="135.55" font-size="2.9" fill="#444" text-anchor="end" font-weight="normal">-0.10</text><line x1="15.6" y1="134.5" x2="16.5" y2="134.5" stroke="#666" stroke-width="0.4"/><rect x="78.6" y="89.4" width="59.0" height="5.599999999999994" fill="#d9d9d9"/><text x="108.10" y="93.30" font-size="3.0" fill="#333" text-anchor="middle" font-weight="normal">C57BL/6J</text><rect x="78.6" y="95.0" width="59.0" height="50.400000000000006" fill="#fff"/><line x1="92.5" y1="95.0" x2="92.5" y2="145.4" stroke="#f0f0f0" stroke-width="0.4"/><line x1="109.6" y1="95.0" x2="109.6" y2="145.4" stroke="#f0f0f0" stroke-width="0.4"/><line x1="127.8" y1="95.0" x2="127.8" y2="145.4" stroke="#f0f0f0" stroke-width="0.4"/><line x1="78.6" y1="96.0" x2="137.6" y2="96.0" stroke="#f0f0f0" stroke-width="0.4"/><line x1="78.6" y1="108.5" x2="137.6" y2="108.5" stroke="#f0f0f0" stroke-width="0.4"/><line x1="78.6" y1="121.5" x2="137.6" y2="121.5" stroke="#f0f0f0" stroke-width="0.4"/><line x1="78.6" y1="134.5" x2="137.6" y2="134.5" stroke="#f0f0f0" stroke-width="0.4"/><rect x="78.6" y="95.0" width="59.0" height="50.400000000000006" fill="none" stroke="#b5b5b5" stroke-width="0.6"/><rect x="16.5" y="146.9" width="59.099999999999994" height="5.699999999999989" fill="#d9d9d9"/><text x="46.05" y="150.85" font-size="3.0" fill="#333" text-anchor="middle" font-weight="normal">FVB/NJ</text><rect x="16.5" y="152.6" width="59.099999999999994" height="50.80000000000001" fill="#fff"/><line x1="30.4" y1="152.6" x2="30.4" y2="203.4" stroke="#f0f0f0" stroke-width="0.4"/><line x1="47.5" y1="152.6" x2="47.5" y2="203.4" stroke="#f0f0f0" stroke-width="0.4"/><line x1="65.7" y1="152.6" x2="65.7" y2="203.4" stroke="#f0f0f0" stroke-width="0.4"/><line x1="16.5" y1="153.5" x2="75.6" y2="153.5" stroke="#f0f0f0" stroke-width="0.4"/><line x1="16.5" y1="166.5" x2="75.6" y2="166.5" stroke="#f0f0f0" stroke-width="0.4"/><line x1="16.5" y1="179.5" x2="75.6" y2="179.5" stroke="#f0f0f0" stroke-width="0.4"/><line x1="16.5" y1="192.5" x2="75.6" y2="192.5" stroke="#f0f0f0" stroke-width="0.4"/><rect x="16.5" y="152.6" width="59.099999999999994" height="50.80000000000001" fill="none" stroke="#b5b5b5" stroke-width="0.6"/><text x="15.00" y="154.55" font-size="2.9" fill="#444" text-anchor="end" font-weight="normal">0.05</text><line x1="15.6" y1="153.5" x2="16.5" y2="153.5" stroke="#666" stroke-width="0.4"/><text x="15.00" y="167.55" font-size="2.9" fill="#444" text-anchor="end" font-weight="normal">0.00</text><line x1="15.6" y1="166.5" x2="16.5" y2="166.5" stroke="#666" stroke-width="0.4"/><text x="15.00" y="180.55" font-size="2.9" fill="#444" text-anchor="end" font-weight="normal">-0.05</text><line x1="15.6" y1="179.5" x2="16.5" y2="179.5" stroke="#666" stroke-width="0.4"/><text x="15.00" y="193.55" font-size="2.9" fill="#444" text-anchor="end" font-weight="normal">-0.10</text><line x1="15.6" y1="192.5" x2="16.5" y2="192.5" stroke="#666" stroke-width="0.4"/><text x="30.40" y="206.80" font-size="2.9" fill="#444" text-anchor="middle" font-weight="normal">-0.1</text><line x1="30.4" y1="203.4" x2="30.4" y2="204.20000000000002" stroke="#666" stroke-width="0.4"/><text x="47.50" y="206.80" font-size="2.9" fill="#444" text-anchor="middle" font-weight="normal">0.0</text><line x1="47.5" y1="203.4" x2="47.5" y2="204.20000000000002" stroke="#666" stroke-width="0.4"/><text x="65.70" y="206.80" font-size="2.9" fill="#444" text-anchor="middle" font-weight="normal">0.1</text><line x1="65.7" y1="203.4" x2="65.7" y2="204.20000000000002" stroke="#666" stroke-width="0.4"/><rect x="78.6" y="146.9" width="59.0" height="5.699999999999989" fill="#d9d9d9"/><text x="108.10" y="150.85" font-size="3.0" fill="#333" text-anchor="middle" font-weight="normal">NOD/ShiLtJ</text><rect x="78.6" y="152.6" width="59.0" height="50.80000000000001" fill="#fff"/><line x1="92.5" y1="152.6" x2="92.5" y2="203.4" stroke="#f0f0f0" stroke-width="0.4"/><line x1="109.6" y1="152.6" x2="109.6" y2="203.4" stroke="#f0f0f0" stroke-width="0.4"/><line x1="127.8" y1="152.6" x2="127.8" y2="203.4" stroke="#f0f0f0" stroke-width="0.4"/><line x1="78.6" y1="153.5" x2="137.6" y2="153.5" stroke="#f0f0f0" stroke-width="0.4"/><line x1="78.6" y1="166.5" x2="137.6" y2="166.5" stroke="#f0f0f0" stroke-width="0.4"/><line x1="78.6" y1="179.5" x2="137.6" y2="179.5" stroke="#f0f0f0" stroke-width="0.4"/><line x1="78.6" y1="192.5" x2="137.6" y2="192.5" stroke="#f0f0f0" stroke-width="0.4"/><rect x="78.6" y="152.6" width="59.0" height="50.80000000000001" fill="none" stroke="#b5b5b5" stroke-width="0.6"/><text x="92.50" y="206.80" font-size="2.9" fill="#444" text-anchor="middle" font-weight="normal">-0.1</text><line x1="92.5" y1="203.4" x2="92.5" y2="204.20000000000002" stroke="#666" stroke-width="0.4"/><text x="109.60" y="206.80" font-size="2.9" fill="#444" text-anchor="middle" font-weight="normal">0.0</text><line x1="109.6" y1="203.4" x2="109.6" y2="204.20000000000002" stroke="#666" stroke-width="0.4"/><text x="127.80" y="206.80" font-size="2.9" fill="#444" text-anchor="middle" font-weight="normal">0.1</text><line x1="127.8" y1="203.4" x2="127.8" y2="204.20000000000002" stroke="#666" stroke-width="0.4"/><text x="61.5" y="212.0" font-size="4.2" fill="#1a1a1a" textLength="8.8" lengthAdjust="spacingAndGlyphs">Axis 1</text><text x="76.9" y="212.0" font-size="4.2" fill="#1a1a1a" textLength="15.4" lengthAdjust="spacingAndGlyphs">[77.5%]</text><g transform="translate(5.3 164.1) rotate(-90)"><text x="0" y="0" font-size="4.2" fill="#1a1a1a" textLength="9.6" lengthAdjust="spacingAndGlyphs">Axis 2</text><text x="16.8" y="0" font-size="4.2" fill="#1a1a1a" textLength="13.4" lengthAdjust="spacingAndGlyphs">[7.4%]</text></g><ellipse cx="49.0" cy="118.3" rx="31" ry="11" transform="rotate(36.5 49.0 118.3)" fill="none" stroke="#558855" stroke-width="0.55"/><ellipse cx="37.2" cy="119.8" rx="15.5" ry="7.4" transform="rotate(-5 37.2 119.8)" fill="none" stroke="#4a4ac4" stroke-width="0.65"/><ellipse cx="52.0" cy="124.0" rx="14.0" ry="7.0" transform="rotate(22 52.0 124.0)" fill="none" stroke="#e05a5a" stroke-width="0.6"/><ellipse cx="55.4" cy="124.0" rx="4.6" ry="2.2" transform="rotate(-62 55.4 124.0)" fill="none" stroke="#9a1a10" stroke-width="1.0"/><ellipse cx="43.5" cy="120.5" rx="4.5" ry="3" transform="rotate(0 43.5 120.5)" fill="none" stroke="#9a9a9a" stroke-width="0.5"/><circle cx="30.4" cy="120.6" r="0.6" fill="#2a2a9a"/><circle cx="35.8" cy="122.4" r="0.6" fill="#2a2a9a"/><circle cx="37" cy="123.6" r="0.6" fill="#2a2a9a"/><circle cx="43.6" cy="112.8" r="0.6" fill="#2a2a9a"/><circle cx="40.6" cy="117" r="0.6" fill="#2a2a9a"/><circle cx="38" cy="115" r="0.6" fill="#2a2a9a"/><circle cx="33" cy="119" r="0.6" fill="#2a2a9a"/><circle cx="46" cy="116.5" r="0.6" fill="#2a2a9a"/><circle cx="50.2" cy="117" r="0.6" fill="#2a2a9a"/><circle cx="52" cy="122" r="0.55" fill="#cc2a2a"/><circle cx="55" cy="126" r="0.55" fill="#cc2a2a"/><circle cx="57" cy="121" r="0.55" fill="#cc2a2a"/><circle cx="50" cy="128" r="0.55" fill="#cc2a2a"/><circle cx="53" cy="130" r="0.55" fill="#cc2a2a"/><circle cx="46" cy="128" r="0.55" fill="#cc2a2a"/><circle cx="48" cy="124" r="0.55" fill="#cc2a2a"/><circle cx="58" cy="125" r="0.55" fill="#cc2a2a"/><circle cx="54" cy="123" r="0.6" fill="#7a1a10"/><circle cx="56" cy="125" r="0.6" fill="#7a1a10"/><circle cx="53" cy="121" r="0.6" fill="#7a1a10"/><circle cx="55.5" cy="122" r="0.6" fill="#7a1a10"/><circle cx="45" cy="117" r="0.55" fill="#c08040"/><circle cx="48" cy="119" r="0.55" fill="#c08040"/><circle cx="44" cy="122" r="0.55" fill="#c08040"/><circle cx="49" cy="116" r="0.55" fill="#c08040"/><circle cx="42" cy="119" r="0.55" fill="#c08040"/><circle cx="46" cy="119.5" r="0.55" fill="#c08040"/><circle cx="55" cy="122" r="0.45" fill="#e09030"/><circle cx="56.5" cy="125" r="0.45" fill="#e09030"/><circle cx="54" cy="126.5" r="0.45" fill="#e09030"/><circle cx="57" cy="121.5" r="0.45" fill="#e09030"/><ellipse cx="105.1" cy="119.8" rx="12.5" ry="4.4" transform="rotate(-14 105.1 119.8)" fill="none" stroke="#9a9a9a" stroke-width="0.6"/><ellipse cx="107.8" cy="114.2" rx="11" ry="4.4" transform="rotate(10 107.8 114.2)" fill="none" stroke="#9a4a3a" stroke-width="0.6"/><ellipse cx="110.8" cy="117.0" rx="12.5" ry="5.0" transform="rotate(15 110.8 117.0)" fill="none" stroke="#2222bb" stroke-width="0.7"/><ellipse cx="107.5" cy="117.2" rx="5" ry="2.6" transform="rotate(0 107.5 117.2)" fill="none" stroke="#2a7a2a" stroke-width="0.6"/><line x1="93.6" y1="143.0" x2="109.2" y2="121.6" stroke="#d82828" stroke-width="1.2"/><circle cx="95" cy="141" r="0.55" fill="#b01a1a"/><circle cx="97" cy="138.2" r="0.55" fill="#b01a1a"/><circle cx="99" cy="135.5" r="0.55" fill="#b01a1a"/><circle cx="101" cy="132.7" r="0.55" fill="#b01a1a"/><circle cx="103" cy="130" r="0.55" fill="#b01a1a"/><circle cx="105" cy="127.3" r="0.55" fill="#b01a1a"/><circle cx="107" cy="124.5" r="0.55" fill="#b01a1a"/><circle cx="104" cy="115" r="0.55" fill="#222"/><circle cx="106" cy="117" r="0.55" fill="#222"/><circle cx="108" cy="116" r="0.55" fill="#222"/><circle cx="110" cy="117" r="0.55" fill="#222"/><circle cx="111" cy="115" r="0.55" fill="#222"/><circle cx="106" cy="119" r="0.55" fill="#222"/><circle cx="109" cy="119" r="0.55" fill="#222"/><circle cx="112" cy="118" r="0.55" fill="#222"/><circle cx="113.5" cy="118" r="0.75" fill="#1a1a8a"/><circle cx="114.5" cy="117.2" r="0.75" fill="#1a1a8a"/><circle cx="112.8" cy="116.2" r="0.75" fill="#1a1a8a"/><circle cx="97.9" cy="122.5" r="0.5" fill="#999"/><circle cx="97" cy="128" r="0.55" fill="#333"/><circle cx="119.5" cy="127" r="0.55" fill="#333"/><circle cx="81" cy="118" r="0.6" fill="#555"/><ellipse cx="44.0" cy="175.6" rx="12.7" ry="3.6" transform="rotate(-24 44.0 175.6)" fill="none" stroke="#2222bb" stroke-width="0.65"/><ellipse cx="54.4" cy="179.6" rx="9.5" ry="2.6" transform="rotate(12 54.4 179.6)" fill="none" stroke="#2a7a2a" stroke-width="0.6"/><ellipse cx="45.6" cy="184.4" rx="17.3" ry="6.2" transform="rotate(-32 45.6 184.4)" fill="none" stroke="#d04040" stroke-width="0.6"/><ellipse cx="56.4" cy="184.0" rx="11.5" ry="3.6" transform="rotate(33.7 56.4 184.0)" fill="none" stroke="#a0402a" stroke-width="0.6"/><circle cx="36.6" cy="178" r="0.65" fill="#1a1a7a"/><circle cx="39" cy="175" r="0.65" fill="#1a1a7a"/><circle cx="41" cy="176" r="0.65" fill="#1a1a7a"/><circle cx="43" cy="173" r="0.65" fill="#1a1a7a"/><circle cx="45" cy="174" r="0.65" fill="#1a1a7a"/><circle cx="47" cy="172" r="0.65" fill="#1a1a7a"/><circle cx="48" cy="171.5" r="0.65" fill="#1a1a7a"/><circle cx="38" cy="177" r="0.65" fill="#1a1a7a"/><circle cx="40.5" cy="173.5" r="0.65" fill="#1a1a7a"/><circle cx="44" cy="176" r="0.65" fill="#1a1a7a"/><circle cx="46.5" cy="174.5" r="0.65" fill="#1a1a7a"/><circle cx="42" cy="171.8" r="0.65" fill="#1a1a7a"/><circle cx="40" cy="189" r="0.65" fill="#b01a1a"/><circle cx="45" cy="184" r="0.65" fill="#b01a1a"/><circle cx="50" cy="180" r="0.65" fill="#b01a1a"/><circle cx="52" cy="183" r="0.65" fill="#b01a1a"/><circle cx="55" cy="185" r="0.65" fill="#b01a1a"/><circle cx="58" cy="183" r="0.65" fill="#b01a1a"/><circle cx="41" cy="183" r="0.65" fill="#b01a1a"/><circle cx="47" cy="186" r="0.65" fill="#b01a1a"/><circle cx="60" cy="186" r="0.65" fill="#b01a1a"/><circle cx="36" cy="194" r="0.65" fill="#b01a1a"/><circle cx="43" cy="181" r="0.65" fill="#b01a1a"/><circle cx="52" cy="178" r="0.5" fill="#2a7a2a"/><circle cx="55" cy="179" r="0.5" fill="#2a7a2a"/><circle cx="57" cy="181" r="0.5" fill="#2a7a2a"/><ellipse cx="111.8" cy="176.2" rx="19.3" ry="15.5" transform="rotate(45 111.8 176.2)" fill="none" stroke="#b0604a" stroke-width="0.6"/><ellipse cx="114.7" cy="179.7" rx="5" ry="12.8" transform="rotate(-22 114.7 179.7)" fill="none" stroke="#9a9a9a" stroke-width="0.55"/><ellipse cx="117.0" cy="179.3" rx="5.0" ry="4.8" transform="rotate(0 117.0 179.3)" fill="none" stroke="#2a7a2a" stroke-width="0.65"/><ellipse cx="115.6" cy="183.8" rx="15.1" ry="2.0" transform="rotate(36.5 115.6 183.8)" fill="none" stroke="#dd2222" stroke-width="0.75"/><circle cx="84.5" cy="173" r="0.7" fill="#1a1a8a"/><circle cx="106.5" cy="168.5" r="0.65" fill="#222"/><circle cx="107.5" cy="168.0" r="0.65" fill="#222"/><circle cx="112.5" cy="172" r="0.65" fill="#222"/><circle cx="112.5" cy="173.2" r="0.65" fill="#222"/><circle cx="103.5" cy="183.8" r="0.65" fill="#222"/><circle cx="102.6" cy="188.3" r="0.65" fill="#222"/><circle cx="116" cy="178" r="0.65" fill="#222"/><circle cx="118" cy="181" r="0.65" fill="#222"/><circle cx="117" cy="183" r="0.65" fill="#222"/><circle cx="119" cy="179" r="0.65" fill="#222"/><circle cx="115" cy="180" r="0.65" fill="#222"/><circle cx="117.5" cy="185" r="0.65" fill="#222"/><circle cx="119.5" cy="183" r="0.65" fill="#222"/><circle cx="114" cy="184" r="0.5" fill="#dd2222"/><circle cx="118" cy="186" r="0.5" fill="#dd2222"/><circle cx="112" cy="181" r="0.5" fill="#dd2222"/><circle cx="120" cy="186" r="0.5" fill="#dd2222"/><text font-size="4.3" fill="#222" transform="translate(143.3 135.0)">Diet</text><line x1="144.6" y1="140.3" x2="148.8" y2="140.3" stroke="#9a9a9a" stroke-width="0.5"/><circle cx="146.7" cy="140.3" r="0.7" fill="#9a9a9a"/><text font-size="3.7" fill="#1a1a1a" transform="translate(150.8 141.60) scale(0.97 1)">Control</text><line x1="144.6" y1="146.3" x2="148.8" y2="146.3" stroke="#8b2a1a" stroke-width="0.5"/><circle cx="146.7" cy="146.3" r="0.7" fill="#8b2a1a"/><text font-size="3.7" fill="#1a1a1a" transform="translate(150.8 147.60) scale(0.97 1)">Japanese</text><line x1="144.6" y1="152.3" x2="148.8" y2="152.3" stroke="#dd2222" stroke-width="0.5"/><circle cx="146.7" cy="152.3" r="0.7" fill="#dd2222"/><text font-size="3.7" fill="#1a1a1a" transform="translate(150.8 153.60) scale(0.97 1)">Ketogenic</text><line x1="144.6" y1="158.3" x2="148.8" y2="158.3" stroke="#2a7a2a" stroke-width="0.5"/><circle cx="146.7" cy="158.3" r="0.7" fill="#2a7a2a"/><text font-size="3.7" fill="#1a1a1a" transform="translate(150.8 159.60) scale(0.97 1)">Mediterranean</text><line x1="144.6" y1="164.3" x2="148.8" y2="164.3" stroke="#2222bb" stroke-width="0.5"/><circle cx="146.7" cy="164.3" r="0.7" fill="#2222bb"/><text font-size="3.7" fill="#1a1a1a" transform="translate(150.8 165.60) scale(0.97 1)">Western</text></svg>
<div style="left:192.00px;top:5.80px;width:37.60px;height:4.40px;background:#d9d9d9;"></div>
<span style="left:210.80px;top:6.20px;font-size:3.4px;color:#333;font-weight:normal;transform:translateX(-50%);">Control</span>
<div style="left:193.35px;top:10.60px;width:7.80px;height:160.00px;background:linear-gradient(to bottom,#000000 0.00px,#000000 10.20px,#b4c43c 10.20px,#b4c43c 11.80px,#6a10b8 11.80px,#6a10b8 14.70px,#ffaaaa 14.70px,#ffaaaa 15.90px,#22bb99 15.90px,#22bb99 17.40px,#9966aa 17.40px,#9966aa 18.60px,#44ee44 18.60px,#44ee44 21.80px,#9966aa 21.80px,#9966aa 24.40px,#44ee44 24.40px,#44ee44 26.90px,#cc6600 26.90px,#cc6600 30.40px,#ffee33 30.40px,#ffee33 36.30px,#a33200 36.30px,#a33200 63.10px,#6b7a3a 63.10px,#6b7a3a 68.90px,#0b3a70 68.90px,#0b3a70 77.20px,#ff3333 77.20px,#ff3333 122.90px,#5e0a72 122.90px,#5e0a72 160.00px);"></div>
<div style="left:202.32px;top:10.60px;width:7.80px;height:160.00px;background:linear-gradient(to bottom,#000000 0.00px,#000000 9.60px,#44ee44 9.60px,#44ee44 10.90px,#66cc44 10.90px,#66cc44 12.40px,#3399ff 12.40px,#3399ff 14.90px,#cc99ee 14.90px,#cc99ee 16.40px,#33bb33 16.40px,#33bb33 18.40px,#9966aa 18.40px,#9966aa 27.40px,#cc99ee 27.40px,#cc99ee 30.40px,#dd9922 30.40px,#dd9922 33.10px,#ffee33 33.10px,#ffee33 42.10px,#a33200 42.10px,#a33200 56.40px,#6b7a3a 56.40px,#6b7a3a 68.90px,#0b3a70 68.90px,#0b3a70 81.00px,#ff3333 81.00px,#ff3333 131.30px,#5e0a72 131.30px,#5e0a72 160.00px);"></div>
<div style="left:211.29px;top:10.60px;width:7.80px;height:160.00px;background:linear-gradient(to bottom,#000000 0.00px,#000000 10.90px,#66cc44 10.90px,#66cc44 11.90px,#22bb99 11.90px,#22bb99 14.40px,#9966aa 14.40px,#9966aa 16.40px,#44ee44 16.40px,#44ee44 21.40px,#9966aa 21.40px,#9966aa 24.40px,#339933 24.40px,#339933 28.60px,#ffaaaa 28.60px,#ffaaaa 30.40px,#ffee33 30.40px,#ffee33 38.90px,#a33200 38.90px,#a33200 59.20px,#6b7a3a 59.20px,#6b7a3a 63.70px,#0b3a70 63.70px,#0b3a70 73.40px,#ff3333 73.40px,#ff3333 117.30px,#5e0a72 117.30px,#5e0a72 160.00px);"></div>
<div style="left:220.26px;top:10.60px;width:7.80px;height:160.00px;background:linear-gradient(to bottom,#000000 0.00px,#000000 19.20px,#a33200 19.20px,#a33200 21.80px,#cc6600 21.80px,#cc6600 22.60px,#3399ff 22.60px,#3399ff 25.90px,#44ee44 25.90px,#44ee44 30.40px,#9966aa 30.40px,#9966aa 35.70px,#ffee33 35.70px,#ffee33 53.00px,#a33200 53.00px,#a33200 69.40px,#6b7a3a 69.40px,#6b7a3a 72.10px,#0b3a70 72.10px,#0b3a70 75.30px,#ff3333 75.30px,#ff3333 112.90px,#cc1144 112.90px,#cc1144 113.70px,#5e0a72 113.70px,#5e0a72 160.00px);"></div>
<span style="left:198.25px;top:171.6px;font-size:3px;color:#333;transform-origin:100% 0;transform:translateX(-100%) rotate(-45deg);white-space:nowrap">All</span>
<span style="left:207.22px;top:171.6px;font-size:3px;color:#333;transform-origin:100% 0;transform:translateX(-100%) rotate(-45deg);white-space:nowrap">C57BL/6J</span>
<span style="left:216.19px;top:171.6px;font-size:3px;color:#333;transform-origin:100% 0;transform:translateX(-100%) rotate(-45deg);white-space:nowrap">FVB/NJ</span>
<span style="left:225.16px;top:171.6px;font-size:3px;color:#333;transform-origin:100% 0;transform:translateX(-100%) rotate(-45deg);white-space:nowrap">NOD/ShiLtJ</span>
<div style="left:234.30px;top:5.80px;width:37.60px;height:4.40px;background:#d9d9d9;"></div>
<span style="left:253.10px;top:6.20px;font-size:3.4px;color:#333;font-weight:normal;transform:translateX(-50%);">Western</span>
<div style="left:235.65px;top:10.60px;width:7.80px;height:160.00px;background:linear-gradient(to bottom,#000000 0.00px,#000000 5.70px,#cc1144 5.70px,#cc1144 6.40px,#cc99ee 6.40px,#cc99ee 8.30px,#3399ff 8.30px,#3399ff 11.50px,#8a55cc 11.50px,#8a55cc 14.40px,#c87aaa 14.40px,#c87aaa 17.90px,#9966aa 17.90px,#9966aa 21.40px,#cc99ee 21.40px,#cc99ee 35.70px,#cc6600 35.70px,#cc6600 44.60px,#ffee33 44.60px,#ffee33 49.10px,#a33200 49.10px,#a33200 57.40px,#6b7a3a 57.40px,#6b7a3a 59.20px,#0b3a70 59.20px,#0b3a70 69.50px,#ff3333 69.50px,#ff3333 110.40px,#5e0a72 110.40px,#5e0a72 160.00px);"></div>
<div style="left:244.62px;top:10.60px;width:7.80px;height:160.00px;background:linear-gradient(to bottom,#000000 0.00px,#000000 25.00px,#cc1144 25.00px,#cc1144 25.90px,#dd9922 25.90px,#dd9922 26.90px,#22bb99 26.90px,#22bb99 28.60px,#2211aa 28.60px,#2211aa 29.90px,#ff00ff 29.90px,#ff00ff 35.00px,#ffaaaa 35.00px,#ffaaaa 36.40px,#9966aa 36.40px,#9966aa 37.90px,#cc99ee 37.90px,#cc99ee 46.60px,#cc6600 46.60px,#cc6600 56.90px,#ffee33 56.90px,#ffee33 58.60px,#a33200 58.60px,#a33200 67.60px,#6b7a3a 67.60px,#6b7a3a 76.60px,#ff3333 76.60px,#ff3333 110.40px,#5e0a72 110.40px,#5e0a72 160.00px);"></div>
<div style="left:253.59px;top:10.60px;width:7.80px;height:160.00px;background:linear-gradient(to bottom,#000000 0.00px,#000000 16.60px,#cc1144 16.60px,#cc1144 18.40px,#ff00ff 18.40px,#ff00ff 25.00px,#cc99ee 25.00px,#cc99ee 27.40px,#9966aa 27.40px,#9966aa 31.20px,#cc99ee 31.20px,#cc99ee 37.60px,#cc6600 37.60px,#cc6600 45.90px,#ffee33 45.90px,#ffee33 51.00px,#a33200 51.00px,#a33200 61.20px,#6b7a3a 61.20px,#6b7a3a 68.90px,#0b3a70 68.90px,#0b3a70 79.10px,#ff3333 79.10px,#ff3333 114.40px,#5e0a72 114.40px,#5e0a72 160.00px);"></div>
<div style="left:262.56px;top:10.60px;width:7.80px;height:160.00px;background:linear-gradient(to bottom,#000000 0.00px,#000000 21.10px,#cc1144 21.10px,#cc1144 22.40px,#9966aa 22.40px,#9966aa 23.40px,#3399ff 23.40px,#3399ff 32.40px,#ffaaaa 32.40px,#ffaaaa 33.40px,#9966aa 33.40px,#9966aa 46.60px,#cc99ee 46.60px,#cc99ee 63.10px,#cc6600 63.10px,#cc6600 78.50px,#ffee33 78.50px,#ffee33 81.70px,#a33200 81.70px,#a33200 88.00px,#339933 88.00px,#339933 93.10px,#ff3333 93.10px,#ff3333 118.80px,#5e0a72 118.80px,#5e0a72 160.00px);"></div>
<span style="left:240.55px;top:171.6px;font-size:3px;color:#333;transform-origin:100% 0;transform:translateX(-100%) rotate(-45deg);white-space:nowrap">All</span>
<span style="left:249.52px;top:171.6px;font-size:3px;color:#333;transform-origin:100% 0;transform:translateX(-100%) rotate(-45deg);white-space:nowrap">C57BL/6J</span>
<span style="left:258.49px;top:171.6px;font-size:3px;color:#333;transform-origin:100% 0;transform:translateX(-100%) rotate(-45deg);white-space:nowrap">FVB/NJ</span>
<span style="left:267.46px;top:171.6px;font-size:3px;color:#333;transform-origin:100% 0;transform:translateX(-100%) rotate(-45deg);white-space:nowrap">NOD/ShiLtJ</span>
<div style="left:276.40px;top:5.80px;width:37.60px;height:4.40px;background:#d9d9d9;"></div>
<span style="left:295.20px;top:6.20px;font-size:3.4px;color:#333;font-weight:normal;transform:translateX(-50%);">Japanese</span>
<div style="left:277.75px;top:10.60px;width:7.80px;height:160.00px;background:linear-gradient(to bottom,#000000 0.00px,#000000 10.20px,#88cc66 10.20px,#88cc66 11.90px,#aaaaaa 11.90px,#aaaaaa 12.90px,#6688dd 12.90px,#6688dd 16.00px,#44ee44 16.00px,#44ee44 21.10px,#888866 21.10px,#888866 22.40px,#ee7788 22.40px,#ee7788 24.90px,#3399ff 24.90px,#3399ff 26.40px,#ffee33 26.40px,#ffee33 34.40px,#a33200 34.40px,#a33200 53.60px,#6b7a3a 53.60px,#6b7a3a 57.40px,#0b3a70 57.40px,#0b3a70 59.00px,#ff3333 59.00px,#ff3333 85.90px,#5e0a72 85.90px,#5e0a72 160.00px);"></div>
<div style="left:286.72px;top:10.60px;width:7.80px;height:160.00px;background:linear-gradient(to bottom,#000000 0.00px,#000000 12.80px,#33bb33 12.80px,#33bb33 17.30px,#ffaaaa 17.30px,#ffaaaa 18.40px,#22bb99 18.40px,#22bb99 22.40px,#3399ff 22.40px,#3399ff 26.90px,#ffaaaa 26.90px,#ffaaaa 29.90px,#44ee44 29.90px,#44ee44 35.70px,#9966aa 35.70px,#9966aa 39.50px,#339933 39.50px,#339933 42.40px,#cc99ee 42.40px,#cc99ee 46.60px,#aaaaaa 46.60px,#aaaaaa 48.50px,#ffee33 48.50px,#ffee33 63.70px,#a33200 63.70px,#a33200 71.40px,#6b7a3a 71.40px,#6b7a3a 83.00px,#0b3a70 83.00px,#0b3a70 91.00px,#ff3333 91.00px,#ff3333 130.30px,#5e0a72 130.30px,#5e0a72 160.00px);"></div>
<div style="left:295.69px;top:10.60px;width:7.80px;height:160.00px;background:linear-gradient(to bottom,#000000 0.00px,#000000 16.60px,#cc1144 16.60px,#cc1144 18.40px,#2211aa 18.40px,#2211aa 19.20px,#b8a0b0 19.20px,#b8a0b0 21.10px,#ffaaaa 21.10px,#ffaaaa 28.60px,#44ee44 28.60px,#44ee44 30.40px,#9966aa 30.40px,#9966aa 35.00px,#339933 35.00px,#339933 48.50px,#ffee33 48.50px,#ffee33 53.60px,#a33200 53.60px,#a33200 65.00px,#6b7a3a 65.00px,#6b7a3a 92.60px,#0b3a70 92.60px,#0b3a70 95.80px,#ff3333 95.80px,#ff3333 147.10px,#5e0a72 147.10px,#5e0a72 160.00px);"></div>
<div style="left:304.66px;top:10.60px;width:7.80px;height:160.00px;background:linear-gradient(to bottom,#000000 0.00px,#000000 14.70px,#33bb33 14.70px,#33bb33 16.90px,#aaaaaa 16.90px,#aaaaaa 18.40px,#3399ff 18.40px,#3399ff 25.00px,#44ee44 25.00px,#44ee44 35.00px,#9966aa 35.00px,#9966aa 39.50px,#aaaaaa 39.50px,#aaaaaa 42.10px,#ffee33 42.10px,#ffee33 54.20px,#a33200 54.20px,#a33200 65.70px,#6b7a3a 65.70px,#6b7a3a 68.20px,#0b3a70 68.20px,#0b3a70 76.60px,#ff3333 76.60px,#ff3333 105.40px,#5e0a72 105.40px,#5e0a72 160.00px);"></div>
<span style="left:282.65px;top:171.6px;font-size:3px;color:#333;transform-origin:100% 0;transform:translateX(-100%) rotate(-45deg);white-space:nowrap">All</span>
<span style="left:291.62px;top:171.6px;font-size:3px;color:#333;transform-origin:100% 0;transform:translateX(-100%) rotate(-45deg);white-space:nowrap">C57BL/6J</span>
<span style="left:300.59px;top:171.6px;font-size:3px;color:#333;transform-origin:100% 0;transform:translateX(-100%) rotate(-45deg);white-space:nowrap">FVB/NJ</span>
<span style="left:309.56px;top:171.6px;font-size:3px;color:#333;transform-origin:100% 0;transform:translateX(-100%) rotate(-45deg);white-space:nowrap">NOD/ShiLtJ</span>
<div style="left:318.50px;top:5.80px;width:37.60px;height:4.40px;background:#d9d9d9;"></div>
<span style="left:337.30px;top:6.20px;font-size:3.4px;color:#333;font-weight:normal;transform:translateX(-50%);">Ketogenic</span>
<div style="left:319.85px;top:10.60px;width:7.80px;height:160.00px;background:linear-gradient(to bottom,#000000 0.00px,#000000 17.90px,#66cc44 17.90px,#66cc44 19.40px,#44ee44 19.40px,#44ee44 22.40px,#aaaaaa 22.40px,#aaaaaa 24.40px,#2211aa 24.40px,#2211aa 28.60px,#9966aa 28.60px,#9966aa 33.70px,#a33200 33.70px,#a33200 46.60px,#6b7a3a 46.60px,#6b7a3a 49.80px,#0b3a70 49.80px,#0b3a70 57.40px,#ff3333 57.40px,#ff3333 61.20px,#5e0a72 61.20px,#5e0a72 160.00px);"></div>
<div style="left:328.82px;top:10.60px;width:7.80px;height:160.00px;background:linear-gradient(to bottom,#000000 0.00px,#000000 20.40px,#33bb33 20.40px,#33bb33 23.00px,#a04030 23.00px,#a04030 24.40px,#8888ee 24.40px,#8888ee 26.40px,#2200ee 26.40px,#2200ee 31.20px,#e0c090 31.20px,#e0c090 32.90px,#339933 32.90px,#339933 36.90px,#a33200 36.90px,#a33200 53.00px,#6b7a3a 53.00px,#6b7a3a 56.90px,#0b3a70 56.90px,#0b3a70 88.00px,#ffaaaa 88.00px,#ffaaaa 88.60px,#ff3333 88.60px,#ff3333 89.40px,#5e0a72 89.40px,#5e0a72 160.00px);"></div>
<div style="left:337.79px;top:10.60px;width:7.80px;height:160.00px;background:linear-gradient(to bottom,#000000 0.00px,#000000 10.90px,#2211aa 10.90px,#2211aa 11.40px,#66cc44 11.40px,#66cc44 13.40px,#44ee44 13.40px,#44ee44 16.00px,#2211aa 16.00px,#2211aa 17.90px,#ffaaaa 17.90px,#ffaaaa 19.40px,#aa3311 19.40px,#aa3311 23.00px,#cc4a00 23.00px,#cc4a00 28.60px,#6b7a3a 28.60px,#6b7a3a 31.80px,#0b3a70 31.80px,#0b3a70 53.00px,#ff3333 53.00px,#ff3333 64.40px,#5e0a72 64.40px,#5e0a72 160.00px);"></div>
<div style="left:346.76px;top:10.60px;width:7.80px;height:160.00px;background:linear-gradient(to bottom,#000000 0.00px,#000000 18.60px,#778833 18.60px,#778833 21.10px,#ee2233 21.10px,#ee2233 25.00px,#bb22cc 25.00px,#bb22cc 27.30px,#dd00dd 27.30px,#dd00dd 30.50px,#ff9a10 30.50px,#ff9a10 38.90px,#9966aa 38.90px,#9966aa 42.10px,#339933 42.10px,#339933 51.00px,#a33200 51.00px,#a33200 65.00px,#6b7a3a 65.00px,#6b7a3a 65.90px,#0b3a70 65.90px,#0b3a70 69.50px,#ff3333 69.50px,#ff3333 138.60px,#5e0a72 138.60px,#5e0a72 160.00px);"></div>
<span style="left:324.75px;top:171.6px;font-size:3px;color:#333;transform-origin:100% 0;transform:translateX(-100%) rotate(-45deg);white-space:nowrap">All</span>
<span style="left:333.72px;top:171.6px;font-size:3px;color:#333;transform-origin:100% 0;transform:translateX(-100%) rotate(-45deg);white-space:nowrap">C57BL/6J</span>
<span style="left:342.69px;top:171.6px;font-size:3px;color:#333;transform-origin:100% 0;transform:translateX(-100%) rotate(-45deg);white-space:nowrap">FVB/NJ</span>
<span style="left:351.66px;top:171.6px;font-size:3px;color:#333;transform-origin:100% 0;transform:translateX(-100%) rotate(-45deg);white-space:nowrap">NOD/ShiLtJ</span>
<div style="left:360.30px;top:5.80px;width:37.60px;height:4.40px;background:#d9d9d9;"></div>
<span style="left:379.10px;top:6.20px;font-size:3.4px;color:#333;font-weight:normal;transform:translateX(-50%);">Mediterranean</span>
<div style="left:361.65px;top:10.60px;width:7.80px;height:160.00px;background:linear-gradient(to bottom,#000000 0.00px,#000000 10.90px,#66cc44 10.90px,#66cc44 12.80px,#4a1060 12.80px,#4a1060 14.40px,#6644cc 14.40px,#6644cc 16.60px,#3399ff 16.60px,#3399ff 23.00px,#aaaaaa 23.00px,#aaaaaa 24.40px,#44ee44 24.40px,#44ee44 26.90px,#9966aa 26.90px,#9966aa 27.40px,#9966aa 27.40px,#9966aa 36.30px,#cc99ee 36.30px,#cc99ee 38.90px,#cc6600 38.90px,#cc6600 44.00px,#ffee33 44.00px,#ffee33 51.00px,#a33200 51.00px,#a33200 73.40px,#6b7a3a 73.40px,#6b7a3a 77.20px,#0b3a70 77.20px,#0b3a70 81.70px,#ff3333 81.70px,#ff3333 120.40px,#5e0a72 120.40px,#5e0a72 160.00px);"></div>
<div style="left:370.62px;top:10.60px;width:7.80px;height:160.00px;background:linear-gradient(to bottom,#000000 0.00px,#000000 14.10px,#66cc44 14.10px,#66cc44 15.90px,#6b7a3a 15.90px,#6b7a3a 17.40px,#ffaaaa 17.40px,#ffaaaa 18.90px,#22bb99 18.90px,#22bb99 21.80px,#33bb33 21.80px,#33bb33 23.00px,#ff00ff 23.00px,#ff00ff 28.00px,#3399ff 28.00px,#3399ff 32.40px,#6b7a3a 32.40px,#6b7a3a 34.40px,#9966aa 34.40px,#9966aa 42.10px,#dd9922 42.10px,#dd9922 43.40px,#ffee33 43.40px,#ffee33 52.30px,#a33200 52.30px,#a33200 71.40px,#6b7a3a 71.40px,#6b7a3a 75.30px,#0b3a70 75.30px,#0b3a70 80.40px,#ff3333 80.40px,#ff3333 124.30px,#5e0a72 124.30px,#5e0a72 160.00px);"></div>
<div style="left:379.59px;top:10.60px;width:7.80px;height:160.00px;background:linear-gradient(to bottom,#000000 0.00px,#000000 17.90px,#cc1144 17.90px,#cc1144 19.40px,#ffaaaa 19.40px,#ffaaaa 20.40px,#aaaaaa 20.40px,#aaaaaa 21.90px,#ffaaaa 21.90px,#ffaaaa 23.40px,#44ee44 23.40px,#44ee44 25.40px,#ffaaaa 25.40px,#ffaaaa 27.90px,#9966aa 27.90px,#9966aa 35.00px,#339933 35.00px,#339933 46.60px,#ffee33 46.60px,#ffee33 53.00px,#a33200 53.00px,#a33200 65.00px,#6b7a3a 65.00px,#6b7a3a 80.40px,#0b3a70 80.40px,#0b3a70 85.50px,#ff3333 85.50px,#ff3333 142.20px,#5e0a72 142.20px,#5e0a72 160.00px);"></div>
<div style="left:388.56px;top:10.60px;width:7.80px;height:160.00px;background:linear-gradient(to bottom,#000000 0.00px,#000000 12.80px,#cc1144 12.80px,#cc1144 15.40px,#8a1aa0 15.40px,#8a1aa0 17.90px,#aab0cc 17.90px,#aab0cc 19.40px,#3399ff 19.40px,#3399ff 24.30px,#ffaaaa 24.30px,#ffaaaa 28.00px,#9966aa 28.00px,#9966aa 33.10px,#aaaaaa 33.10px,#aaaaaa 34.40px,#ffee33 34.40px,#ffee33 47.20px,#a33200 47.20px,#a33200 58.00px,#6b7a3a 58.00px,#6b7a3a 68.20px,#0b3a70 68.20px,#0b3a70 73.40px,#ff3333 73.40px,#ff3333 108.20px,#5e0a72 108.20px,#5e0a72 160.00px);"></div>
<span style="left:366.55px;top:171.6px;font-size:3px;color:#333;transform-origin:100% 0;transform:translateX(-100%) rotate(-45deg);white-space:nowrap">All</span>
<span style="left:375.52px;top:171.6px;font-size:3px;color:#333;transform-origin:100% 0;transform:translateX(-100%) rotate(-45deg);white-space:nowrap">C57BL/6J</span>
<span style="left:384.49px;top:171.6px;font-size:3px;color:#333;transform-origin:100% 0;transform:translateX(-100%) rotate(-45deg);white-space:nowrap">FVB/NJ</span>
<span style="left:393.46px;top:171.6px;font-size:3px;color:#333;transform-origin:100% 0;transform:translateX(-100%) rotate(-45deg);white-space:nowrap">NOD/ShiLtJ</span>
<span style="left:190.80px;top:9.00px;font-size:2.9px;color:#555;font-weight:normal;transform:translateX(-100%);">1.00</span>
<div style="left:191.00px;top:10.40px;width:1.00px;height:0.40px;background:#888;"></div>
<span style="left:190.80px;top:49.00px;font-size:2.9px;color:#555;font-weight:normal;transform:translateX(-100%);">0.75</span>
<div style="left:191.00px;top:50.40px;width:1.00px;height:0.40px;background:#888;"></div>
<span style="left:190.80px;top:89.00px;font-size:2.9px;color:#555;font-weight:normal;transform:translateX(-100%);">0.50</span>
<div style="left:191.00px;top:90.40px;width:1.00px;height:0.40px;background:#888;"></div>
<span style="left:190.80px;top:129.00px;font-size:2.9px;color:#555;font-weight:normal;transform:translateX(-100%);">0.25</span>
<div style="left:191.00px;top:130.40px;width:1.00px;height:0.40px;background:#888;"></div>
<span style="left:190.80px;top:169.00px;font-size:2.9px;color:#555;font-weight:normal;transform:translateX(-100%);">0.00</span>
<div style="left:191.00px;top:170.40px;width:1.00px;height:0.40px;background:#888;"></div>
<span style="left:183.9px;top:90.8px;font-size:3.7px;color:#111;transform:translate(-50%,-50%) rotate(-90deg);white-space:nowrap">Mean relative abundance</span>
<span style="left:222.30px;top:188.90px;font-size:4.3px;color:#111;font-weight:normal;transform-origin:0 50%;transform:scaleX(0.86);">Genus</span>
<div style="left:222.40px;top:194.10px;width:3.80px;height:4.30px;background:#000000;"></div>
<span style="left:229.00px;top:195.20px;font-size:3.45px;color:#222;font-weight:normal;transform-origin:0 50%;transform:scaleX(0.86);">Remaining Fraction</span>
<div style="left:222.40px;top:198.60px;width:3.80px;height:4.30px;background:#66cc44;"></div>
<span style="left:229.00px;top:199.70px;font-size:3.45px;color:#222;font-weight:normal;transform-origin:0 50%;transform:scaleX(0.86);">g_Blautia</span>
<div style="left:222.40px;top:203.10px;width:3.80px;height:4.30px;background:#33bb33;"></div>
<span style="left:229.00px;top:204.20px;font-size:3.45px;color:#222;font-weight:normal;transform-origin:0 50%;transform:scaleX(0.86);">g_Faecalibaculum</span>
<div style="left:222.40px;top:207.60px;width:3.80px;height:4.30px;background:#cc1144;"></div>
<span style="left:229.00px;top:208.70px;font-size:3.45px;color:#222;font-weight:normal;transform-origin:0 50%;transform:scaleX(0.86);">f_Ruminococcaceae_g_</span>
<div style="left:222.40px;top:212.10px;width:3.80px;height:4.30px;background:#22bb99;"></div>
<span style="left:229.00px;top:213.20px;font-size:3.45px;color:#222;font-weight:normal;transform-origin:0 50%;transform:scaleX(0.86);">g_Clostridiales vadinBB60 group</span>
<div style="left:222.40px;top:216.60px;width:3.80px;height:4.30px;background:#2211aa;"></div>
<span style="left:229.00px;top:217.70px;font-size:3.45px;color:#222;font-weight:normal;transform-origin:0 50%;transform:scaleX(0.86);">g_GCA-900066575</span>
<div style="left:222.40px;top:221.10px;width:3.80px;height:4.30px;background:#ff00ff;"></div>
<span style="left:229.00px;top:222.20px;font-size:3.45px;color:#222;font-weight:normal;transform-origin:0 50%;transform:scaleX(0.86);">g_Oscillibacter</span>
<div style="left:222.40px;top:225.60px;width:3.80px;height:4.30px;background:#dd9922;"></div>
<span style="left:229.00px;top:226.70px;font-size:3.45px;color:#222;font-weight:normal;transform-origin:0 50%;transform:scaleX(0.86);">f_Lachnospiraceae_g_uncultured</span>
<div style="left:222.40px;top:230.10px;width:3.80px;height:4.30px;background:#3399ff;"></div>
<span style="left:229.00px;top:231.20px;font-size:3.45px;color:#222;font-weight:normal;transform-origin:0 50%;transform:scaleX(0.86);">g_uncultured Bacteroidales bacterium</span>
<div style="left:222.40px;top:234.60px;width:3.80px;height:4.30px;background:#ffaaaa;"></div>
<span style="left:229.00px;top:235.70px;font-size:3.45px;color:#222;font-weight:normal;transform-origin:0 50%;transform:scaleX(0.86);">g_Ruminococcaceae UCG-014</span>
<div style="left:222.40px;top:239.10px;width:3.80px;height:4.30px;background:#44ee44;"></div>
<span style="left:229.00px;top:240.20px;font-size:3.45px;color:#222;font-weight:normal;transform-origin:0 50%;transform:scaleX(0.86);">g_Roseburia</span>
<div style="left:280.20px;top:199.40px;width:3.80px;height:4.30px;background:#9966aa;"></div>
<span style="left:286.20px;top:200.50px;font-size:3.45px;color:#222;font-weight:normal;transform-origin:0 50%;transform:scaleX(0.86);">g_Lactobacillus</span>
<div style="left:280.20px;top:203.90px;width:3.80px;height:4.30px;background:#339933;"></div>
<span style="left:286.20px;top:205.00px;font-size:3.45px;color:#222;font-weight:normal;transform-origin:0 50%;transform:scaleX(0.86);">g_mouse gut metagenome</span>
<div style="left:280.20px;top:208.40px;width:3.80px;height:4.30px;background:#cc99ee;"></div>
<span style="left:286.20px;top:209.50px;font-size:3.45px;color:#222;font-weight:normal;transform-origin:0 50%;transform:scaleX(0.86);">g_Bifidobacterium</span>
<div style="left:280.20px;top:212.90px;width:3.80px;height:4.30px;background:#cc6600;"></div>
<span style="left:286.20px;top:214.00px;font-size:3.45px;color:#222;font-weight:normal;transform-origin:0 50%;transform:scaleX(0.86);">f_Peptococcaceae_g_uncultured organism</span>
<div style="left:280.20px;top:217.40px;width:3.80px;height:4.30px;background:#ffee33;"></div>
<span style="left:286.20px;top:218.50px;font-size:3.45px;color:#222;font-weight:normal;transform-origin:0 50%;transform:scaleX(0.86);">f_Erysipelotrichaceae_g_</span>
<div style="left:280.20px;top:221.90px;width:3.80px;height:4.30px;background:#a33200;"></div>
<span style="left:286.20px;top:223.00px;font-size:3.45px;color:#222;font-weight:normal;transform-origin:0 50%;transform:scaleX(0.86);">f_Lachnospiraceae_g_</span>
<div style="left:280.20px;top:226.40px;width:3.80px;height:4.30px;background:#6b7a3a;"></div>
<span style="left:286.20px;top:227.50px;font-size:3.45px;color:#222;font-weight:normal;transform-origin:0 50%;transform:scaleX(0.86);">g_Alistipes</span>
<div style="left:280.20px;top:230.90px;width:3.80px;height:4.30px;background:#0b3a70;"></div>
<span style="left:286.20px;top:232.00px;font-size:3.45px;color:#222;font-weight:normal;transform-origin:0 50%;transform:scaleX(0.86);">g_Akkermansia</span>
<div style="left:280.20px;top:235.40px;width:3.80px;height:4.30px;background:#ff3333;"></div>
<span style="left:286.20px;top:236.50px;font-size:3.45px;color:#222;font-weight:normal;transform-origin:0 50%;transform:scaleX(0.86);">f_Muribaculaceae_g_uncultured bacterium</span>
<div style="left:280.20px;top:239.90px;width:3.80px;height:4.30px;background:#5e0a72;"></div>
<span style="left:286.20px;top:241.00px;font-size:3.45px;color:#222;font-weight:normal;transform-origin:0 50%;transform:scaleX(0.86);">g_Bacteroides</span>
<div style="left:15.9px;top:215.0px;width:177.7px;height:7.5px;background:#6a6a6a"></div><div style="left:15.9px;top:222.5px;width:177.7px;height:1.0px;background:#9a9a9a"></div><div style="left:15.9px;top:223.5px;width:177.7px;height:6.5px;background:#6e6e6e"></div><div style="left:15.9px;top:230.0px;width:177.7px;height:6.2px;background:#cdcdcd"></div><div style="left:15.9px;top:236.2px;width:177.7px;height:6.2px;background:#d8d8d8"></div><div style="left:15.9px;top:242.4px;width:177.7px;height:6.8px;background:#d0d0d0"></div><span style="left:74.2px;top:219.0px;font-size:4.45px;color:#f0f0f0;font-weight:bold;transform:translate(-50%,-50%)">Weighted UniFrac</span><span style="left:121.3px;top:219.0px;font-size:4.45px;color:#f0f0f0;font-weight:bold;transform:translate(-50%,-50%)">Unweighted UniFrac</span><span style="left:169.2px;top:219.0px;font-size:4.45px;color:#f0f0f0;font-weight:bold;transform:translate(-50%,-50%)">Bray-Curtis</span><span style="left:60.8px;top:226.9px;font-size:4.2px;color:#e6e6e6;font-weight:bold;transform:translate(-50%,-50%)">R<sup style="font-size:2.7px;vertical-align:1.4px">2</sup></span><span style="left:84.6px;top:226.9px;font-size:4.2px;color:#e6e6e6;font-weight:bold;transform:translate(-50%,-50%)">P</span><span style="left:108.2px;top:226.9px;font-size:4.2px;color:#e6e6e6;font-weight:bold;transform:translate(-50%,-50%)">R<sup style="font-size:2.7px;vertical-align:1.4px">2</sup></span><span style="left:132.4px;top:226.9px;font-size:4.2px;color:#e6e6e6;font-weight:bold;transform:translate(-50%,-50%)">P</span><span style="left:155.8px;top:226.9px;font-size:4.2px;color:#e6e6e6;font-weight:bold;transform:translate(-50%,-50%)">R<sup style="font-size:2.7px;vertical-align:1.4px">2</sup></span><span style="left:181.0px;top:226.9px;font-size:4.2px;color:#e6e6e6;font-weight:bold;transform:translate(-50%,-50%)">P</span><span style="left:17.6px;top:233.2px;font-size:4.7px;color:#111;font-weight:bold;transform:translate(0,-50%)">Strain</span><span style="left:61.6px;top:233.2px;font-size:4.6px;color:#222;font-weight:normal;transform:translate(-50%,-50%)">0.073</span><span style="left:84.6px;top:233.2px;font-size:4.5px;color:#111;font-weight:bold;transform:translate(-50%,-50%)">&lt;0.001</span><span style="left:108.2px;top:233.2px;font-size:4.6px;color:#222;font-weight:normal;transform:translate(-50%,-50%)">0.077</span><span style="left:132.4px;top:233.2px;font-size:4.5px;color:#111;font-weight:bold;transform:translate(-50%,-50%)">&lt;0.001</span><span style="left:156.4px;top:233.2px;font-size:4.6px;color:#222;font-weight:normal;transform:translate(-50%,-50%)">0.069</span><span style="left:181.0px;top:233.2px;font-size:4.5px;color:#111;font-weight:bold;transform:translate(-50%,-50%)">&lt;0.001</span><span style="left:17.6px;top:239.2px;font-size:4.7px;color:#111;font-weight:bold;transform:translate(0,-50%)">Diet</span><span style="left:61.6px;top:239.2px;font-size:4.6px;color:#222;font-weight:normal;transform:translate(-50%,-50%)">0.197</span><span style="left:84.6px;top:239.2px;font-size:4.5px;color:#111;font-weight:bold;transform:translate(-50%,-50%)">&lt;0.001</span><span style="left:108.2px;top:239.2px;font-size:4.6px;color:#222;font-weight:normal;transform:translate(-50%,-50%)">0.220</span><span style="left:132.4px;top:239.2px;font-size:4.5px;color:#111;font-weight:bold;transform:translate(-50%,-50%)">&lt;0.001</span><span style="left:156.4px;top:239.2px;font-size:4.6px;color:#222;font-weight:normal;transform:translate(-50%,-50%)">0.279</span><span style="left:181.0px;top:239.2px;font-size:4.5px;color:#111;font-weight:bold;transform:translate(-50%,-50%)">&lt;0.001</span><span style="left:17.6px;top:245.2px;font-size:4.7px;color:#111;font-weight:bold;transform:translate(0,-50%)">Strain: Diet</span><span style="left:61.6px;top:245.2px;font-size:4.6px;color:#222;font-weight:normal;transform:translate(-50%,-50%)">0.226</span><span style="left:84.6px;top:245.2px;font-size:4.5px;color:#111;font-weight:bold;transform:translate(-50%,-50%)">&lt;0.001</span><span style="left:108.2px;top:245.2px;font-size:4.6px;color:#222;font-weight:normal;transform:translate(-50%,-50%)">0.148</span><span style="left:132.4px;top:245.2px;font-size:4.5px;color:#111;font-weight:bold;transform:translate(-50%,-50%)">&lt;0.001</span><span style="left:156.4px;top:245.2px;font-size:4.6px;color:#222;font-weight:normal;transform:translate(-50%,-50%)">0.189</span><span style="left:181.0px;top:245.2px;font-size:4.5px;color:#111;font-weight:bold;transform:translate(-50%,-50%)">&lt;0.001</span>
</div></body></html>
